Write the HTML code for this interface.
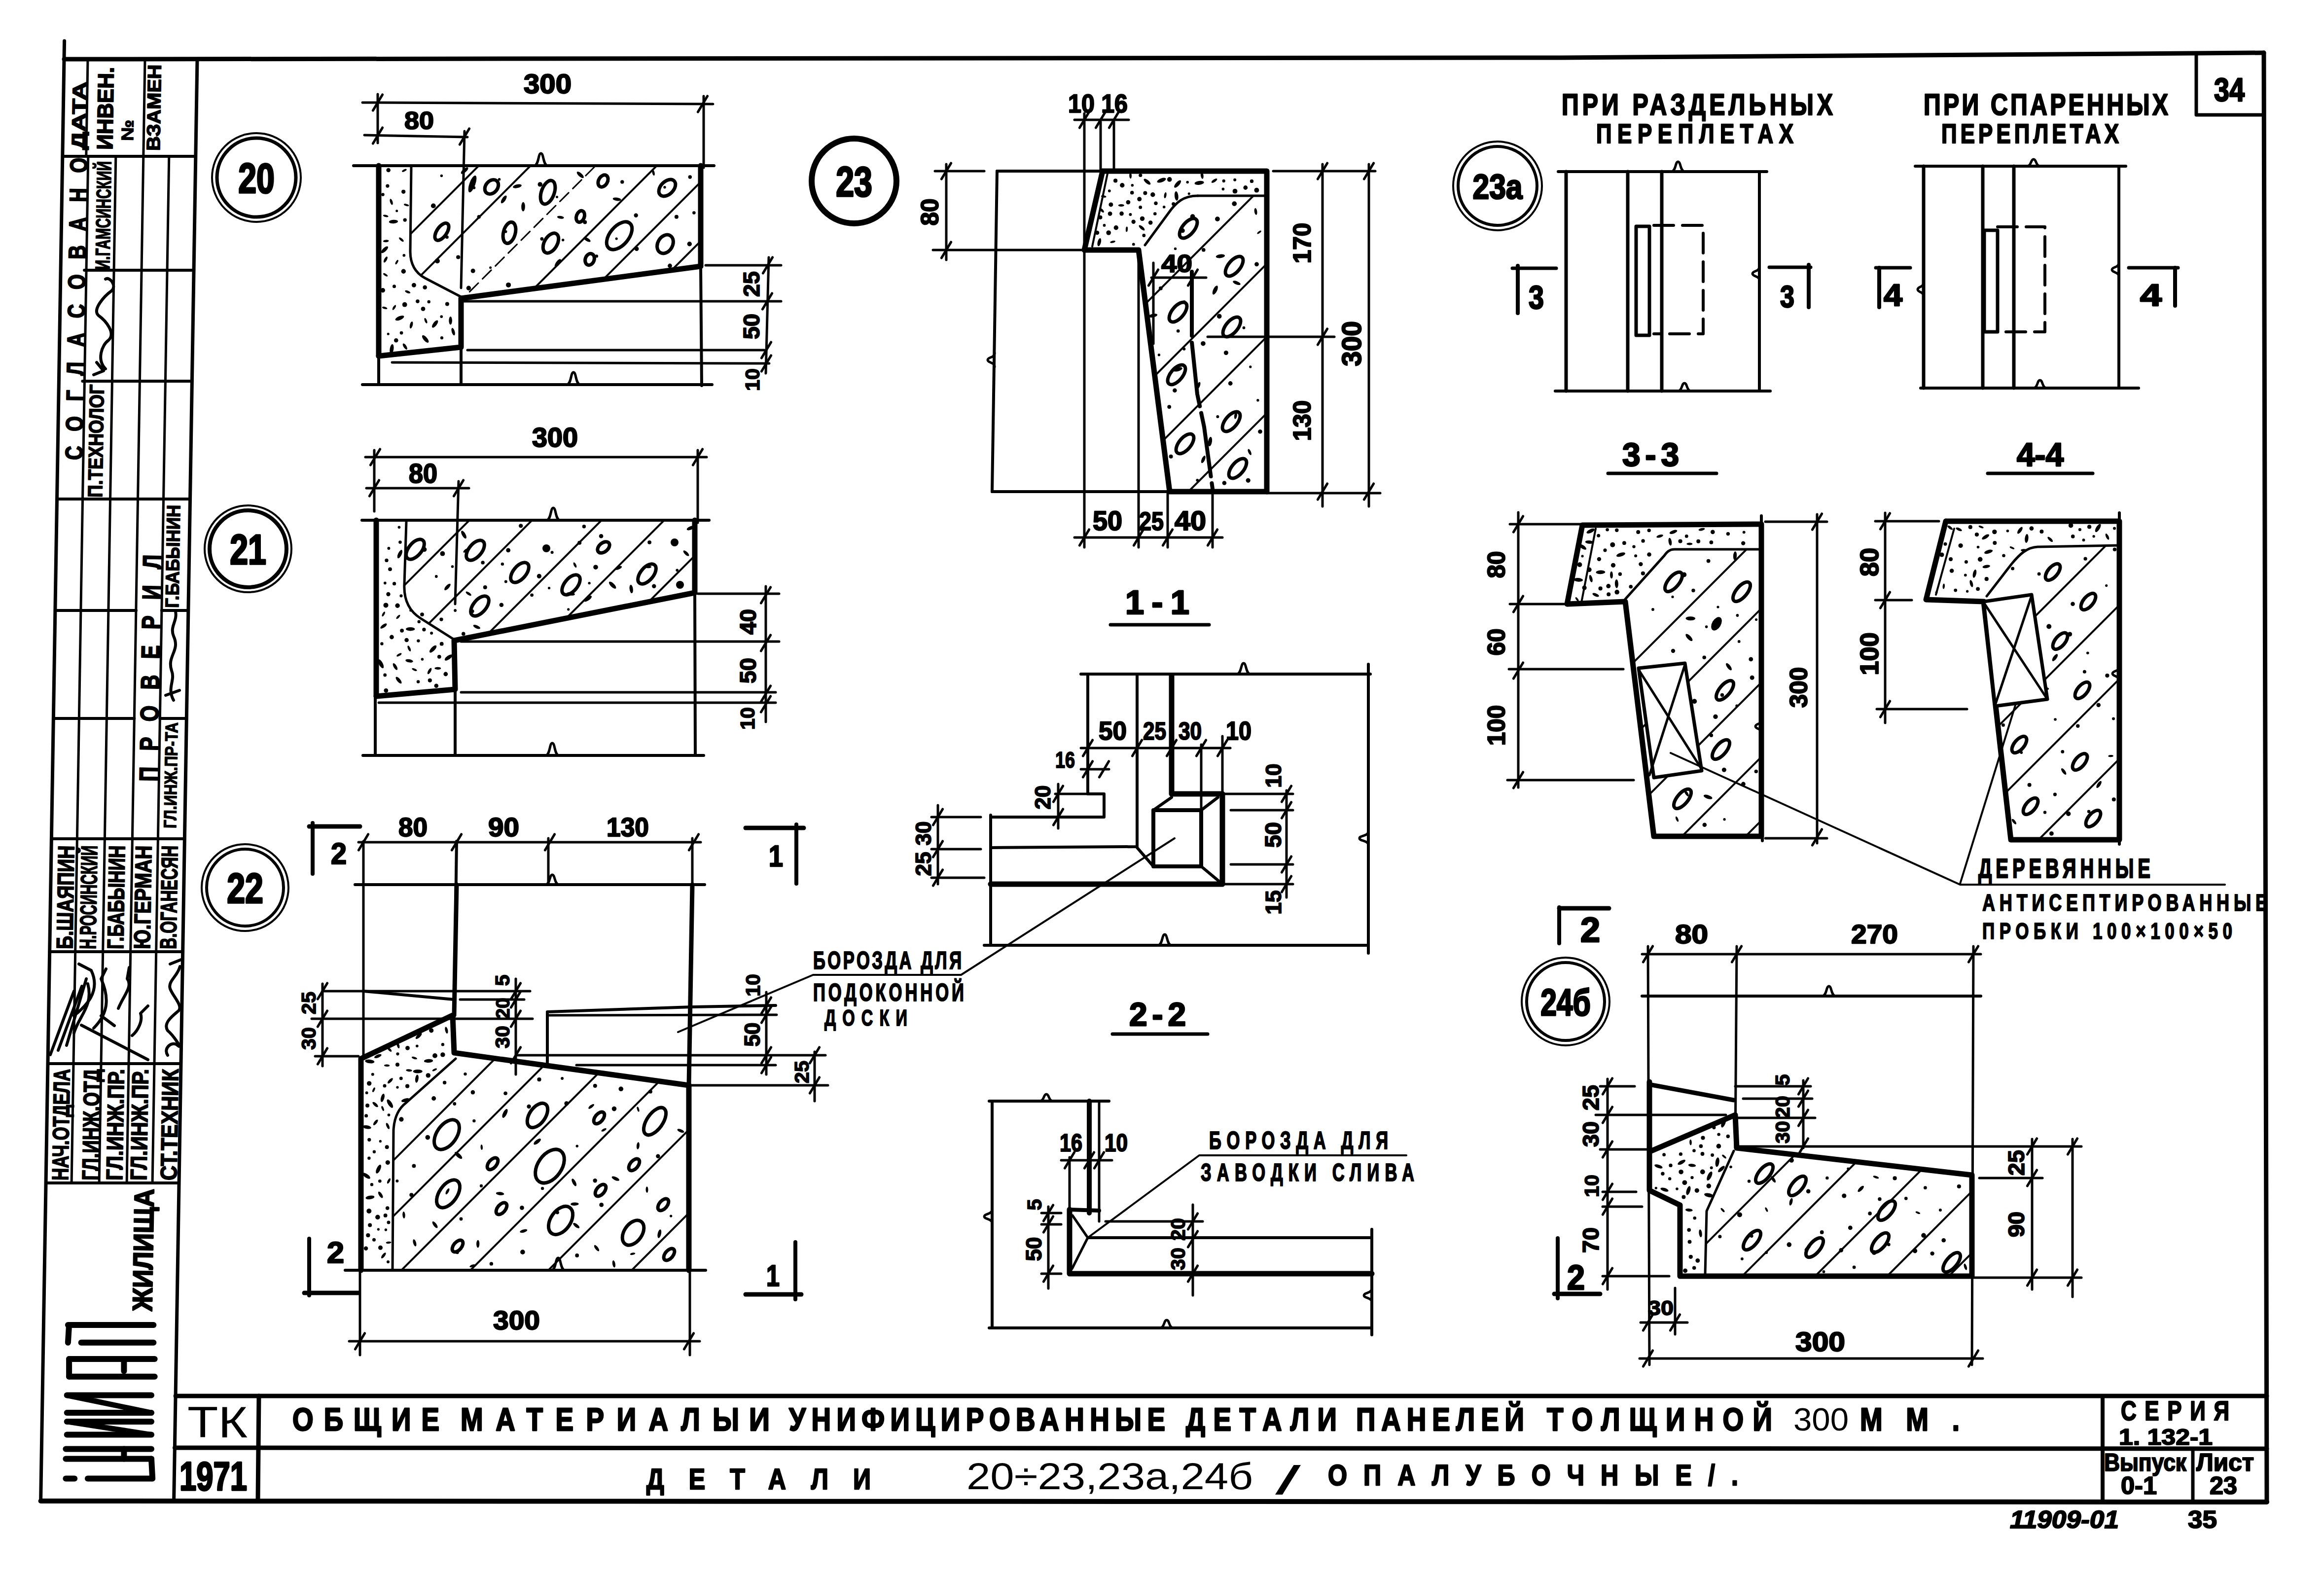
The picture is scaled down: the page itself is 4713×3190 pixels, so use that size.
<!DOCTYPE html>
<html><head><meta charset="utf-8"><style>
html,body{margin:0;padding:0;background:#fff;width:4713px;height:3190px;overflow:hidden}
svg{display:block}
text{fill:#000}
</style></head><body>
<svg width="4713" height="3190" viewBox="0 0 4713 3190">
<defs><clipPath id="c1"><polygon points="834.0,338.0 1421.0,336.0 1421.0,540.0 935.0,605.0 853.0,557.0 832.0,522.0"/></clipPath><clipPath id="c2"><polygon points="834.0,338.0 1421.0,336.0 1421.0,540.0 935.0,605.0 853.0,557.0 832.0,522.0"/></clipPath><clipPath id="c3"><polygon points="824.0,1058.0 1409.0,1055.0 1409.0,1202.0 921.0,1299.0 851.0,1252.0 820.0,1198.0"/></clipPath><clipPath id="c4"><polygon points="924.0,2137.0 1397.0,2201.0 1397.0,2576.0 796.0,2576.0 798.0,2277.0 820.0,2242.0"/></clipPath><clipPath id="c5"><polygon points="2429.0,397.0 2569.0,397.0 2569.0,997.0 2372.0,997.0 2309.0,507.0 2322.0,497.0 2369.0,433.0"/></clipPath><clipPath id="c6"><polygon points="3396.0,1114.0 3572.0,1114.0 3572.0,1696.0 3354.0,1696.0 3296.0,1220.0 3375.0,1127.0"/></clipPath><clipPath id="c7"><polygon points="4132.0,1109.0 4298.0,1106.0 4298.0,1703.0 4078.0,1703.0 4023.0,1220.0 4029.0,1209.0 4080.0,1143.0"/></clipPath><clipPath id="c8"><polygon points="3519.0,2328.0 3999.0,2383.0 3999.0,2588.0 3458.0,2588.0 3461.0,2456.0"/></clipPath></defs>
<g stroke="#000" stroke-linecap="round" stroke-linejoin="round" fill="none">
<polyline points="130.0,120.0 3164.0,117.0 4591.0,107.0" fill="none" stroke-width="9"/>
<line x1="130.6" y1="83.0" x2="82.6" y2="3044.0" stroke-width="7"/>
<line x1="4591.0" y1="107.0" x2="4597.0" y2="3046.0" stroke-width="9"/>
<line x1="82.6" y1="3044.0" x2="4597.0" y2="3046.0" stroke-width="10"/>
<line x1="400.0" y1="120.0" x2="352.6" y2="3044.0" stroke-width="7"/>
<line x1="126.8" y1="317.0" x2="396.8" y2="317.0" stroke-width="6"/>
<line x1="178.0" y1="120.0" x2="174.8" y2="317.0" stroke-width="5"/>
<line x1="294.0" y1="120.0" x2="290.8" y2="317.0" stroke-width="5"/>
<line x1="171.1" y1="548.0" x2="393.1" y2="548.0" stroke-width="6"/>
<line x1="167.4" y1="773.0" x2="389.4" y2="773.0" stroke-width="6"/>
<line x1="115.5" y1="1012.0" x2="385.5" y2="1012.0" stroke-width="6"/>
<line x1="111.9" y1="1238.0" x2="275.9" y2="1238.0" stroke-width="6"/>
<line x1="327.9" y1="1238.0" x2="381.9" y2="1238.0" stroke-width="6"/>
<line x1="108.3" y1="1457.0" x2="272.3" y2="1457.0" stroke-width="6"/>
<line x1="324.3" y1="1457.0" x2="378.3" y2="1457.0" stroke-width="6"/>
<line x1="104.4" y1="1701.0" x2="374.4" y2="1701.0" stroke-width="6"/>
<line x1="100.7" y1="1930.0" x2="370.7" y2="1930.0" stroke-width="6"/>
<line x1="97.0" y1="2157.0" x2="367.0" y2="2157.0" stroke-width="6"/>
<line x1="93.1" y1="2399.0" x2="363.1" y2="2399.0" stroke-width="6"/>
<line x1="178.8" y1="317.0" x2="145.1" y2="2399.0" stroke-width="5"/>
<line x1="234.8" y1="317.0" x2="201.1" y2="2399.0" stroke-width="5"/>
<line x1="290.8" y1="317.0" x2="257.1" y2="2399.0" stroke-width="5"/>
<line x1="342.8" y1="317.0" x2="309.1" y2="2399.0" stroke-width="5"/>
<line x1="356.1" y1="2831.0" x2="4597.0" y2="2831.0" stroke-width="9"/>
<line x1="354.4" y1="2936.0" x2="4597.0" y2="2938.0" stroke-width="9"/>
<line x1="525.0" y1="2831.0" x2="523.0" y2="3044.0" stroke-width="9"/>
<line x1="4264.0" y1="2831.0" x2="4264.0" y2="3046.0" stroke-width="8"/>
<line x1="4447.0" y1="2938.0" x2="4447.0" y2="3046.0" stroke-width="7"/>
<text transform="translate(380.0,2915.0)" text-anchor="start" textLength="122.0" lengthAdjust="spacingAndGlyphs" style="font-size:89.2px;font-weight:normal;font-family:&quot;Liberation Sans&quot;,sans-serif;" stroke="#000" stroke-width="0.0">ТК</text>
<text transform="translate(364.0,3022.0)" text-anchor="start" textLength="137.0" lengthAdjust="spacingAndGlyphs" style="font-size:80.9px;font-weight:bold;font-family:&quot;Liberation Sans&quot;,sans-serif;" stroke="#000" stroke-width="3.5">1971</text>
<text transform="translate(593.0,2901.0) scale(0.85,1)" text-anchor="start" textLength="350.6" lengthAdjust="spacing" style="font-size:64.5px;font-weight:bold;font-family:&quot;Liberation Sans&quot;,sans-serif;" stroke="#000" stroke-width="2.8">ОБЩИЕ</text>
<text transform="translate(934.0,2901.0) scale(0.85,1)" text-anchor="start" textLength="664.7" lengthAdjust="spacing" style="font-size:64.5px;font-weight:bold;font-family:&quot;Liberation Sans&quot;,sans-serif;" stroke="#000" stroke-width="2.8">МАТЕРИАЛЫ</text>
<text transform="translate(1519.0,2901.0)" text-anchor="start" textLength="42.0" lengthAdjust="spacingAndGlyphs" style="font-size:64.5px;font-weight:bold;font-family:&quot;Liberation Sans&quot;,sans-serif;" stroke="#000" stroke-width="2.8">И</text>
<text transform="translate(1600.0,2901.0) scale(0.85,1)" text-anchor="start" textLength="897.6" lengthAdjust="spacing" style="font-size:64.5px;font-weight:bold;font-family:&quot;Liberation Sans&quot;,sans-serif;" stroke="#000" stroke-width="2.8">УНИФИЦИРОВАННЫЕ</text>
<text transform="translate(2405.0,2901.0) scale(0.85,1)" text-anchor="start" textLength="360.0" lengthAdjust="spacing" style="font-size:64.5px;font-weight:bold;font-family:&quot;Liberation Sans&quot;,sans-serif;" stroke="#000" stroke-width="2.8">ДЕТАЛИ</text>
<text transform="translate(2750.0,2901.0) scale(0.85,1)" text-anchor="start" textLength="401.2" lengthAdjust="spacing" style="font-size:64.5px;font-weight:bold;font-family:&quot;Liberation Sans&quot;,sans-serif;" stroke="#000" stroke-width="2.8">ПАНЕЛЕЙ</text>
<text transform="translate(3137.0,2901.0) scale(0.85,1)" text-anchor="start" textLength="537.6" lengthAdjust="spacing" style="font-size:64.5px;font-weight:bold;font-family:&quot;Liberation Sans&quot;,sans-serif;" stroke="#000" stroke-width="2.8">ТОЛЩИНОЙ</text>
<text transform="translate(3637.0,2901.0)" text-anchor="start" textLength="112.0" lengthAdjust="spacingAndGlyphs" style="font-size:64.5px;font-weight:normal;font-family:&quot;Liberation Sans&quot;,sans-serif;" stroke="#000" stroke-width="0.0">300</text>
<text transform="translate(3772.0,2901.0) scale(0.85,1)" text-anchor="start" textLength="237.6" lengthAdjust="spacing" style="font-size:64.5px;font-weight:bold;font-family:&quot;Liberation Sans&quot;,sans-serif;" stroke="#000" stroke-width="2.8">ММ.</text>
<text transform="translate(1311.0,3020.0) scale(0.85,1)" text-anchor="start" textLength="535.3" lengthAdjust="spacing" style="font-size:59.0px;font-weight:bold;font-family:&quot;Liberation Sans&quot;,sans-serif;" stroke="#000" stroke-width="2.6">ДЕТАЛИ</text>
<text transform="translate(1960.0,3020.0)" text-anchor="start" textLength="581.0" lengthAdjust="spacingAndGlyphs" style="font-size:75.4px;font-weight:normal;font-family:&quot;Liberation Sans&quot;,sans-serif;" stroke="#000" stroke-width="0.0">20÷23,23а,24б</text>
<text transform="translate(2586.0,3030.0)" text-anchor="start" textLength="52.0" lengthAdjust="spacingAndGlyphs" style="font-size:82.3px;font-weight:normal;font-family:&quot;Liberation Sans&quot;,sans-serif;" stroke="#000" stroke-width="0.0">/</text>
<text transform="translate(2693.0,3012.0) scale(0.85,1)" text-anchor="start" textLength="978.8" lengthAdjust="spacing" style="font-size:59.0px;font-weight:bold;font-family:&quot;Liberation Sans&quot;,sans-serif;" stroke="#000" stroke-width="2.6">ОПАЛУБОЧНЫЕ/.</text>
<text transform="translate(172.0,304.0) rotate(-89.07)" text-anchor="start" textLength="138.0" lengthAdjust="spacingAndGlyphs" style="font-size:38.4px;font-weight:bold;font-family:&quot;Liberation Sans&quot;,sans-serif;" stroke="#000" stroke-width="1.7">ДАТА</text>
<text transform="translate(228.0,304.0) rotate(-89.07)" text-anchor="start" textLength="168.0" lengthAdjust="spacingAndGlyphs" style="font-size:45.3px;font-weight:bold;font-family:&quot;Liberation Sans&quot;,sans-serif;" stroke="#000" stroke-width="2.0">ИНВЕН.</text>
<text transform="translate(270.0,286.0) rotate(-89.07)" text-anchor="start" textLength="43.0" lengthAdjust="spacingAndGlyphs" style="font-size:34.3px;font-weight:bold;font-family:&quot;Liberation Sans&quot;,sans-serif;" stroke="#000" stroke-width="1.5">№</text>
<text transform="translate(324.0,306.0) rotate(-89.07)" text-anchor="start" textLength="175.0" lengthAdjust="spacingAndGlyphs" style="font-size:38.4px;font-weight:bold;font-family:&quot;Liberation Sans&quot;,sans-serif;" stroke="#000" stroke-width="1.7">ВЗАМЕН</text>
<text transform="translate(167.0,933.0) rotate(-89.07) scale(0.8,1)" text-anchor="start" textLength="766.2" lengthAdjust="spacing" style="font-size:49.4px;font-weight:bold;font-family:&quot;Liberation Sans&quot;,sans-serif;" stroke="#000" stroke-width="2.2">СОГЛАСОВАНО</text>
<text transform="translate(222.0,547.0) rotate(-89.07)" text-anchor="start" textLength="220.0" lengthAdjust="spacingAndGlyphs" style="font-size:41.2px;font-weight:bold;font-family:&quot;Liberation Sans&quot;,sans-serif;" stroke="#000" stroke-width="1.8">И.ГАМСИНСКИЙ</text>
<text transform="translate(207.0,1009.0) rotate(-89.07)" text-anchor="start" textLength="229.0" lengthAdjust="spacingAndGlyphs" style="font-size:41.2px;font-weight:bold;font-family:&quot;Liberation Sans&quot;,sans-serif;" stroke="#000" stroke-width="1.8">П.ТЕХНОЛОГ</text>
<text transform="translate(362.0,1233.0) rotate(-89.07)" text-anchor="start" textLength="209.0" lengthAdjust="spacingAndGlyphs" style="font-size:38.4px;font-weight:bold;font-family:&quot;Liberation Sans&quot;,sans-serif;" stroke="#000" stroke-width="1.7">Г.БАБЫНИН</text>
<text transform="translate(319.0,1585.0) rotate(-89.07) scale(0.8,1)" text-anchor="start" textLength="575.0" lengthAdjust="spacing" style="font-size:52.1px;font-weight:bold;font-family:&quot;Liberation Sans&quot;,sans-serif;" stroke="#000" stroke-width="2.3">ПРОВЕРИЛ</text>
<text transform="translate(357.0,1680.0) rotate(-89.07)" text-anchor="start" textLength="215.0" lengthAdjust="spacingAndGlyphs" style="font-size:35.7px;font-weight:bold;font-family:&quot;Liberation Sans&quot;,sans-serif;" stroke="#000" stroke-width="1.6">ГЛ.ИНЖ.ПР-ТА</text>
<text transform="translate(147.0,1925.0) rotate(-89.07) scale(0.85,1)" text-anchor="start" textLength="247.1" lengthAdjust="spacingAndGlyphs" style="font-size:46.6px;font-weight:bold;font-family:&quot;Liberation Sans&quot;,sans-serif;" stroke="#000" stroke-width="2.0">Б.ШАЯПИН</text>
<text transform="translate(194.0,1925.0) rotate(-89.07) scale(0.85,1)" text-anchor="start" textLength="247.1" lengthAdjust="spacingAndGlyphs" style="font-size:46.6px;font-weight:bold;font-family:&quot;Liberation Sans&quot;,sans-serif;" stroke="#000" stroke-width="2.0">Н.РОСИНСКИЙ</text>
<text transform="translate(250.0,1925.0) rotate(-89.07) scale(0.85,1)" text-anchor="start" textLength="247.1" lengthAdjust="spacingAndGlyphs" style="font-size:46.6px;font-weight:bold;font-family:&quot;Liberation Sans&quot;,sans-serif;" stroke="#000" stroke-width="2.0">Г.БАБЫНИН</text>
<text transform="translate(304.0,1925.0) rotate(-89.07) scale(0.85,1)" text-anchor="start" textLength="247.1" lengthAdjust="spacingAndGlyphs" style="font-size:46.6px;font-weight:bold;font-family:&quot;Liberation Sans&quot;,sans-serif;" stroke="#000" stroke-width="2.0">Ю.ГЕРМАН</text>
<text transform="translate(357.0,1925.0) rotate(-89.07) scale(0.85,1)" text-anchor="start" textLength="247.1" lengthAdjust="spacingAndGlyphs" style="font-size:46.6px;font-weight:bold;font-family:&quot;Liberation Sans&quot;,sans-serif;" stroke="#000" stroke-width="2.0">В.ОГАНЕСЯН</text>
<text transform="translate(138.0,2394.0) rotate(-89.07) scale(0.85,1)" text-anchor="start" textLength="265.9" lengthAdjust="spacingAndGlyphs" style="font-size:46.6px;font-weight:bold;font-family:&quot;Liberation Sans&quot;,sans-serif;" stroke="#000" stroke-width="2.0">НАЧ.ОТДЕЛА</text>
<text transform="translate(199.0,2394.0) rotate(-89.07) scale(0.85,1)" text-anchor="start" textLength="265.9" lengthAdjust="spacingAndGlyphs" style="font-size:46.6px;font-weight:bold;font-family:&quot;Liberation Sans&quot;,sans-serif;" stroke="#000" stroke-width="2.0">ГЛ.ИНЖ.ОТД</text>
<text transform="translate(248.0,2394.0) rotate(-89.07) scale(0.85,1)" text-anchor="start" textLength="265.9" lengthAdjust="spacingAndGlyphs" style="font-size:46.6px;font-weight:bold;font-family:&quot;Liberation Sans&quot;,sans-serif;" stroke="#000" stroke-width="2.0">ГЛ.ИНЖ.ПР.</text>
<text transform="translate(297.0,2394.0) rotate(-89.07) scale(0.85,1)" text-anchor="start" textLength="265.9" lengthAdjust="spacingAndGlyphs" style="font-size:46.6px;font-weight:bold;font-family:&quot;Liberation Sans&quot;,sans-serif;" stroke="#000" stroke-width="2.0">ГЛ.ИНЖ.ПР.</text>
<text transform="translate(358.0,2394.0) rotate(-89.07) scale(0.85,1)" text-anchor="start" textLength="265.9" lengthAdjust="spacingAndGlyphs" style="font-size:46.6px;font-weight:bold;font-family:&quot;Liberation Sans&quot;,sans-serif;" stroke="#000" stroke-width="2.0">СТ.ТЕХНИК</text>
<line x1="137.9" y1="2687.1" x2="311.4" y2="2687.1" stroke-width="12"/>
<line x1="164.6" y1="2722.7" x2="311.4" y2="2722.7" stroke-width="12"/>
<line x1="140.1" y1="2756.1" x2="313.7" y2="2756.1" stroke-width="12"/>
<line x1="140.1" y1="2791.7" x2="313.7" y2="2791.7" stroke-width="12"/>
<line x1="135.7" y1="2829.5" x2="307.0" y2="2829.5" stroke-width="12"/>
<line x1="135.7" y1="2865.1" x2="307.0" y2="2865.1" stroke-width="12"/>
<line x1="135.7" y1="2882.9" x2="307.0" y2="2882.9" stroke-width="12"/>
<line x1="135.7" y1="2909.6" x2="307.0" y2="2909.6" stroke-width="12"/>
<line x1="133.4" y1="2938.5" x2="307.0" y2="2938.5" stroke-width="12"/>
<line x1="133.4" y1="2958.5" x2="307.0" y2="2958.5" stroke-width="12"/>
<line x1="177.9" y1="2998.6" x2="307.0" y2="2998.6" stroke-width="12"/>
<line x1="140.1" y1="2687.1" x2="137.9" y2="2722.7" stroke-width="12"/>
<line x1="140.1" y1="2756.1" x2="140.1" y2="2791.7" stroke-width="12"/>
<line x1="251.4" y1="2756.1" x2="251.4" y2="2780.5" stroke-width="12"/>
<line x1="135.7" y1="2829.5" x2="307.0" y2="2865.1" stroke-width="11"/>
<line x1="135.7" y1="2882.9" x2="307.0" y2="2909.6" stroke-width="11"/>
<line x1="251.4" y1="2938.5" x2="251.4" y2="2958.5" stroke-width="12"/>
<line x1="307.0" y1="2958.5" x2="309.2" y2="2998.6" stroke-width="12"/>
<line x1="133.4" y1="2998.6" x2="151.2" y2="2998.6" stroke-width="12"/>
<text transform="translate(308.0,2659.0) rotate(-89.07)" text-anchor="start" textLength="248.0" lengthAdjust="spacingAndGlyphs" style="font-size:56.2px;font-weight:bold;font-family:&quot;Liberation Sans&quot;,sans-serif;" stroke="#000" stroke-width="2.5">ЖИЛИЩА</text>
<path d="M214,748 C196,730 206,700 220,690 C236,676 214,650 200,640 C186,628 212,600 226,590 C238,580 222,560 214,566 M196,735 L210,752 L190,760" fill="none" stroke-width="6"/>
<path d="M352,1420 C338,1395 356,1380 348,1360 C338,1330 366,1320 352,1290 C344,1270 360,1260 356,1240 M336,1410 L364,1400" fill="none" stroke-width="6"/>
<path d="M102,2139 L150,2010 M118,2130 L166,2000 M135,2120 L175,1985 M150,2095 C160,2060 190,2040 178,1995 M150,2060 C175,2040 205,2010 185,1968 L160,1955 M190,2085 C215,2060 225,2030 205,1985 L215,1965 M165,2079 L300,2149 M205,2060 L232,2080 M240,2045 C250,2020 270,2000 258,1985 L262,1962 M268,2100 C280,2090 290,2070 285,2055 L300,2040" fill="none" stroke-width="6"/>
<path d="M340,2140 C330,2125 350,2110 360,2120 C372,2130 352,2100 340,2090 C330,2075 350,2060 362,2050 C372,2040 350,2020 345,2005 C340,1990 360,1980 365,1960 M345,1955 L370,1945" fill="none" stroke-width="6"/>
<circle cx="520" cy="360" r="90" stroke-width="4"/>
<circle cx="520" cy="360" r="80" stroke-width="7"/>
<text transform="translate(520.0,391.0) scale(0.78,1)" text-anchor="middle" style="font-size:85.0px;font-weight:bold;font-family:&quot;Liberation Sans&quot;,sans-serif;" stroke="#000" stroke-width="3.7">20</text>
<circle cx="896.0" cy="685.2" r="3.1" fill="#000" stroke="none"/>
<ellipse cx="919.1" cy="672.6" rx="7.9" ry="3.1" transform="rotate(74 919.1 672.6)" fill="#000" stroke="none"/>
<ellipse cx="821.3" cy="702.7" rx="7.2" ry="2.9" transform="rotate(57 821.3 702.7)" fill="#000" stroke="none"/>
<circle cx="839.4" cy="578.3" r="4.5" fill="#000" stroke="none"/>
<ellipse cx="781.6" cy="557.3" rx="5.2" ry="2.1" transform="rotate(34 781.6 557.3)" fill="#000" stroke="none"/>
<circle cx="787.7" cy="345.0" r="4.3" fill="#000" stroke="none"/>
<circle cx="804.7" cy="427.7" r="2.5" fill="#000" stroke="none"/>
<circle cx="818.2" cy="388.8" r="4.1" fill="#000" stroke="none"/>
<circle cx="787.2" cy="677.3" r="2.5" fill="#000" stroke="none"/>
<circle cx="820.7" cy="617.7" r="4.9" fill="#000" stroke="none"/>
<ellipse cx="780.2" cy="624.4" rx="5.5" ry="2.2" transform="rotate(15 780.2 624.4)" fill="#000" stroke="none"/>
<ellipse cx="804.7" cy="531.6" rx="5.1" ry="2.0" transform="rotate(120 804.7 531.6)" fill="#000" stroke="none"/>
<ellipse cx="813.9" cy="485.8" rx="6.1" ry="2.4" transform="rotate(41 813.9 485.8)" fill="#000" stroke="none"/>
<circle cx="818.3" cy="550.2" r="4.7" fill="#000" stroke="none"/>
<circle cx="799.5" cy="580.8" r="3.5" fill="#000" stroke="none"/>
<circle cx="814.1" cy="675.1" r="3.4" fill="#000" stroke="none"/>
<ellipse cx="834.1" cy="659.1" rx="7.3" ry="2.9" transform="rotate(104 834.1 659.1)" fill="#000" stroke="none"/>
<circle cx="803.3" cy="690.3" r="4.3" fill="#000" stroke="none"/>
<ellipse cx="797.9" cy="449.5" rx="9.2" ry="3.7" transform="rotate(177 797.9 449.5)" fill="#000" stroke="none"/>
<circle cx="776.3" cy="588.8" r="4.7" fill="#000" stroke="none"/>
<ellipse cx="810.5" cy="645.1" rx="9.6" ry="3.9" transform="rotate(157 810.5 645.1)" fill="#000" stroke="none"/>
<ellipse cx="824.2" cy="415.7" rx="5.3" ry="2.1" transform="rotate(16 824.2 415.7)" fill="#000" stroke="none"/>
<circle cx="869.7" cy="612.0" r="3.2" fill="#000" stroke="none"/>
<ellipse cx="781.9" cy="526.4" rx="6.8" ry="2.7" transform="rotate(119 781.9 526.4)" fill="#000" stroke="none"/>
<circle cx="861.7" cy="582.7" r="4.3" fill="#000" stroke="none"/>
<circle cx="858.0" cy="626.4" r="4.4" fill="#000" stroke="none"/>
<circle cx="819.3" cy="517.8" r="2.9" fill="#000" stroke="none"/>
<ellipse cx="862.7" cy="687.4" rx="9.4" ry="3.8" transform="rotate(49 862.7 687.4)" fill="#000" stroke="none"/>
<ellipse cx="782.2" cy="437.9" rx="5.5" ry="2.2" transform="rotate(14 782.2 437.9)" fill="#000" stroke="none"/>
<circle cx="846.9" cy="611.1" r="3.8" fill="#000" stroke="none"/>
<ellipse cx="793.6" cy="409.3" rx="6.4" ry="2.6" transform="rotate(72 793.6 409.3)" fill="#000" stroke="none"/>
<ellipse cx="863.5" cy="650.3" rx="5.8" ry="2.3" transform="rotate(68 863.5 650.3)" fill="#000" stroke="none"/>
<ellipse cx="882.2" cy="657.0" rx="9.1" ry="3.7" transform="rotate(127 882.2 657.0)" fill="#000" stroke="none"/>
<ellipse cx="794.4" cy="707.8" rx="9.8" ry="3.9" transform="rotate(99 794.4 707.8)" fill="#000" stroke="none"/>
<ellipse cx="779.9" cy="506.4" rx="9.2" ry="3.7" transform="rotate(136 779.9 506.4)" fill="#000" stroke="none"/>
<ellipse cx="826.8" cy="591.9" rx="5.9" ry="2.4" transform="rotate(22 826.8 591.9)" fill="#000" stroke="none"/>
<circle cx="895.3" cy="642.1" r="2.9" fill="#000" stroke="none"/>
<circle cx="821.2" cy="446.1" r="3.7" fill="#000" stroke="none"/>
<ellipse cx="819.9" cy="345.7" rx="5.2" ry="2.1" transform="rotate(153 819.9 345.7)" fill="#000" stroke="none"/>
<circle cx="906.9" cy="616.4" r="4.0" fill="#000" stroke="none"/>
<circle cx="785.9" cy="377.1" r="3.6" fill="#000" stroke="none"/>
<ellipse cx="782.7" cy="488.8" rx="5.9" ry="2.4" transform="rotate(175 782.7 488.8)" fill="#000" stroke="none"/>
<circle cx="776.4" cy="394.6" r="3.3" fill="#000" stroke="none"/>
<ellipse cx="799.4" cy="623.6" rx="5.8" ry="2.3" transform="rotate(123 799.4 623.6)" fill="#000" stroke="none"/>
<ellipse cx="913.6" cy="650.3" rx="8.2" ry="3.3" transform="rotate(90 913.6 650.3)" fill="#000" stroke="none"/>
<circle cx="929.2" cy="521.5" r="4.1" fill="#000" stroke="none"/>
<circle cx="959.2" cy="549.2" r="4.5" fill="#000" stroke="none"/>
<circle cx="1129.5" cy="399.5" r="2.5" fill="#000" stroke="none"/>
<ellipse cx="1176.8" cy="354.6" rx="9.0" ry="3.6" transform="rotate(42 1176.8 354.6)" fill="#000" stroke="none"/>
<circle cx="1025.7" cy="469.8" r="2.8" fill="#000" stroke="none"/>
<ellipse cx="1049.0" cy="377.6" rx="9.1" ry="3.6" transform="rotate(167 1049.0 377.6)" fill="#000" stroke="none"/>
<circle cx="1098.9" cy="484.5" r="3.4" fill="#000" stroke="none"/>
<ellipse cx="942.1" cy="346.0" rx="9.3" ry="3.7" transform="rotate(140 942.1 346.0)" fill="#000" stroke="none"/>
<circle cx="1358.5" cy="539.0" r="4.4" fill="#000" stroke="none"/>
<circle cx="1261.8" cy="368.9" r="3.7" fill="#000" stroke="none"/>
<circle cx="950.4" cy="584.3" r="4.7" fill="#000" stroke="none"/>
<circle cx="886.9" cy="529.2" r="5.0" fill="#000" stroke="none"/>
<ellipse cx="1190.6" cy="485.7" rx="8.1" ry="3.2" transform="rotate(31 1190.6 485.7)" fill="#000" stroke="none"/>
<circle cx="1012.6" cy="363.8" r="2.7" fill="#000" stroke="none"/>
<circle cx="1289.7" cy="436.8" r="4.2" fill="#000" stroke="none"/>
<circle cx="1398.3" cy="494.8" r="4.7" fill="#000" stroke="none"/>
<circle cx="1348.0" cy="379.7" r="2.7" fill="#000" stroke="none"/>
<ellipse cx="1325.0" cy="350.0" rx="6.3" ry="2.5" transform="rotate(76 1325.0 350.0)" fill="#000" stroke="none"/>
<circle cx="1031.1" cy="577.9" r="5.0" fill="#000" stroke="none"/>
<circle cx="1186.2" cy="450.6" r="4.0" fill="#000" stroke="none"/>
<circle cx="994.6" cy="542.7" r="2.5" fill="#000" stroke="none"/>
<circle cx="1333.6" cy="493.2" r="3.1" fill="#000" stroke="none"/>
<circle cx="1095.2" cy="373.9" r="4.7" fill="#000" stroke="none"/>
<circle cx="906.5" cy="480.9" r="3.3" fill="#000" stroke="none"/>
<circle cx="961.3" cy="380.7" r="3.0" fill="#000" stroke="none"/>
<circle cx="1250.2" cy="484.0" r="2.6" fill="#000" stroke="none"/>
<ellipse cx="1251.1" cy="404.0" rx="8.5" ry="3.4" transform="rotate(8 1251.1 404.0)" fill="#000" stroke="none"/>
<ellipse cx="1061.0" cy="419.2" rx="9.5" ry="3.8" transform="rotate(91 1061.0 419.2)" fill="#000" stroke="none"/>
<ellipse cx="1131.3" cy="533.6" rx="9.8" ry="3.9" transform="rotate(126 1131.3 533.6)" fill="#000" stroke="none"/>
<circle cx="1141.7" cy="486.8" r="2.7" fill="#000" stroke="none"/>
<circle cx="1407.4" cy="431.6" r="3.3" fill="#000" stroke="none"/>
<circle cx="895.4" cy="356.5" r="2.7" fill="#000" stroke="none"/>
<ellipse cx="1136.8" cy="440.7" rx="7.0" ry="2.8" transform="rotate(9 1136.8 440.7)" fill="#000" stroke="none"/>
<circle cx="971.3" cy="439.7" r="3.7" fill="#000" stroke="none"/>
<circle cx="1399.3" cy="359.0" r="3.7" fill="#000" stroke="none"/>
<circle cx="1291.1" cy="504.6" r="4.4" fill="#000" stroke="none"/>
<circle cx="1371.9" cy="439.8" r="4.0" fill="#000" stroke="none"/>
<circle cx="878.8" cy="417.4" r="4.9" fill="#000" stroke="none"/>
<circle cx="1209.9" cy="519.4" r="3.2" fill="#000" stroke="none"/>
<ellipse cx="1021.7" cy="404.4" rx="9.2" ry="3.7" transform="rotate(123 1021.7 404.4)" fill="#000" stroke="none"/>
<g clip-path="url(#c1)">
<line x1="782.0" y1="525.0" x2="1471.0" y2="-164.0" stroke-width="4"/>
<line x1="782.0" y1="630.0" x2="1471.0" y2="-59.0" stroke-width="4"/>
<line x1="782.0" y1="886.0" x2="1471.0" y2="197.0" stroke-width="4"/>
<line x1="782.0" y1="1008.0" x2="1471.0" y2="319.0" stroke-width="4"/>
<line x1="782.0" y1="1128.0" x2="1471.0" y2="439.0" stroke-width="4"/>
</g>
<g clip-path="url(#c2)"><line x1="900" y1="644" x2="1300" y2="244" stroke-width="3" stroke-dasharray="25,12"/></g>
<ellipse cx="958" cy="373" rx="6" ry="18" transform="rotate(20 958 373)" fill="#000" stroke="none"/>
<ellipse cx="997.0" cy="379.0" rx="12.0" ry="16.0" transform="rotate(40 997.0 379.0)" stroke-width="7"/>
<ellipse cx="1111.0" cy="390.0" rx="13.0" ry="25.0" transform="rotate(20 1111.0 390.0)" stroke-width="7"/>
<ellipse cx="1223.0" cy="367.0" rx="9.0" ry="13.0" transform="rotate(30 1223.0 367.0)" stroke-width="7"/>
<ellipse cx="1353.0" cy="381.0" rx="13.0" ry="20.0" transform="rotate(45 1353.0 381.0)" stroke-width="7"/>
<ellipse cx="896.0" cy="470.0" rx="10.0" ry="20.0" transform="rotate(35 896.0 470.0)" stroke-width="7"/>
<ellipse cx="1033.0" cy="472.0" rx="12.0" ry="22.0" transform="rotate(15 1033.0 472.0)" stroke-width="7"/>
<ellipse cx="1117.0" cy="493.0" rx="13.0" ry="22.0" transform="rotate(30 1117.0 493.0)" stroke-width="7"/>
<ellipse cx="1177.0" cy="439.0" rx="8.0" ry="12.0" transform="rotate(20 1177.0 439.0)" stroke-width="7"/>
<ellipse cx="1256.0" cy="478.0" rx="19.0" ry="33.0" transform="rotate(40 1256.0 478.0)" stroke-width="7"/>
<ellipse cx="1349.0" cy="495.0" rx="15.0" ry="20.0" transform="rotate(30 1349.0 495.0)" stroke-width="7"/>
<ellipse cx="1196.0" cy="526.0" rx="9.0" ry="12.0" transform="rotate(20 1196.0 526.0)" stroke-width="7"/>
<polyline points="768.0,336.0 768.0,722.0" fill="none" stroke-width="11"/>
<polyline points="1421.0,336.0 1421.0,540.0 935.0,605.0 935.0,704.0 768.0,722.0" fill="none" stroke-width="11"/>
<path d="M834,338 L832,510 Q832,548 862,564 L935,602" fill="none" stroke-width="5"/>
<line x1="717.0" y1="336.0" x2="1448.0" y2="336.0" stroke-width="6"/>
<path d="M1083,336 C1093,336 1091,311 1097,311 C1103,311 1101,336 1111,336" fill="none" stroke-width="5"/>
<line x1="735.0" y1="780.0" x2="1444.0" y2="780.0" stroke-width="6"/>
<path d="M1149,780 C1159,780 1157,755 1163,755 C1169,755 1167,780 1177,780" fill="none" stroke-width="5"/>
<line x1="768.0" y1="722.0" x2="768.0" y2="780.0" stroke-width="6"/>
<line x1="935.0" y1="704.0" x2="935.0" y2="780.0" stroke-width="6"/>
<line x1="1421.0" y1="540.0" x2="1423.0" y2="782.0" stroke-width="6"/>
<line x1="795.0" y1="735.0" x2="1560.0" y2="737.0" stroke-width="5"/>
<line x1="948.0" y1="710.0" x2="1550.0" y2="710.0" stroke-width="5"/>
<line x1="935.0" y1="611.0" x2="1584.0" y2="611.0" stroke-width="5"/>
<line x1="1431.0" y1="538.0" x2="1584.0" y2="538.0" stroke-width="5"/>
<line x1="735.0" y1="208.0" x2="1446.0" y2="211.0" stroke-width="5"/>
<line x1="756.4" y1="224.0" x2="775.6" y2="192.0" stroke-width="5"/>
<line x1="1415.4" y1="227.0" x2="1434.6" y2="195.0" stroke-width="5"/>
<line x1="739.0" y1="274.0" x2="948.0" y2="278.0" stroke-width="5"/>
<line x1="756.4" y1="291.0" x2="775.6" y2="259.0" stroke-width="5"/>
<line x1="932.4" y1="293.0" x2="951.6" y2="261.0" stroke-width="5"/>
<line x1="766.0" y1="191.0" x2="766.0" y2="290.0" stroke-width="5"/>
<line x1="942.0" y1="266.0" x2="935.0" y2="584.0" stroke-width="5"/>
<line x1="1427.0" y1="195.0" x2="1427.0" y2="340.0" stroke-width="5"/>
<text transform="translate(1062.0,189.0)" text-anchor="start" textLength="97.0" lengthAdjust="spacingAndGlyphs" style="font-size:54.9px;font-weight:bold;font-family:&quot;Liberation Sans&quot;,sans-serif;" stroke="#000" stroke-width="2.4">300</text>
<text transform="translate(820.0,262.0)" text-anchor="start" textLength="60.0" lengthAdjust="spacingAndGlyphs" style="font-size:49.4px;font-weight:bold;font-family:&quot;Liberation Sans&quot;,sans-serif;" stroke="#000" stroke-width="2.2">80</text>
<line x1="1559.0" y1="522.0" x2="1553.0" y2="757.0" stroke-width="5"/>
<line x1="1547.4" y1="554.0" x2="1566.6" y2="522.0" stroke-width="5"/>
<line x1="1546.4" y1="627.0" x2="1565.6" y2="595.0" stroke-width="5"/>
<line x1="1544.4" y1="726.0" x2="1563.6" y2="694.0" stroke-width="5"/>
<line x1="1544.4" y1="753.0" x2="1563.6" y2="721.0" stroke-width="5"/>
<text transform="translate(1540.0,576.0) rotate(-90)" text-anchor="middle" style="font-size:46.6px;font-weight:bold;font-family:&quot;Liberation Sans&quot;,sans-serif;" stroke="#000" stroke-width="2.0">25</text>
<text transform="translate(1540.0,662.0) rotate(-90)" text-anchor="middle" style="font-size:46.6px;font-weight:bold;font-family:&quot;Liberation Sans&quot;,sans-serif;" stroke="#000" stroke-width="2.0">50</text>
<text transform="translate(1540.0,770.0) rotate(-90)" text-anchor="middle" style="font-size:41.2px;font-weight:bold;font-family:&quot;Liberation Sans&quot;,sans-serif;" stroke="#000" stroke-width="1.8">10</text>
<circle cx="503" cy="1113" r="88" stroke-width="4"/>
<circle cx="503" cy="1113" r="78" stroke-width="8"/>
<text transform="translate(503.0,1144.0) scale(0.78,1)" text-anchor="middle" style="font-size:85.0px;font-weight:bold;font-family:&quot;Liberation Sans&quot;,sans-serif;" stroke="#000" stroke-width="3.7">21</text>
<circle cx="824.6" cy="1298.0" r="4.3" fill="#000" stroke="none"/>
<circle cx="809.4" cy="1069.3" r="2.8" fill="#000" stroke="none"/>
<ellipse cx="840.5" cy="1357.9" rx="5.6" ry="2.2" transform="rotate(23 840.5 1357.9)" fill="#000" stroke="none"/>
<ellipse cx="887.8" cy="1355.3" rx="6.5" ry="2.6" transform="rotate(1 887.8 1355.3)" fill="#000" stroke="none"/>
<circle cx="890.8" cy="1331.8" r="3.9" fill="#000" stroke="none"/>
<circle cx="895.7" cy="1305.7" r="3.9" fill="#000" stroke="none"/>
<ellipse cx="777.9" cy="1269.6" rx="7.8" ry="3.1" transform="rotate(144 777.9 1269.6)" fill="#000" stroke="none"/>
<circle cx="859.9" cy="1276.7" r="3.7" fill="#000" stroke="none"/>
<ellipse cx="809.4" cy="1327.9" rx="5.8" ry="2.3" transform="rotate(149 809.4 1327.9)" fill="#000" stroke="none"/>
<circle cx="788.4" cy="1111.9" r="3.0" fill="#000" stroke="none"/>
<ellipse cx="832.2" cy="1275.7" rx="9.2" ry="3.7" transform="rotate(0 832.2 1275.7)" fill="#000" stroke="none"/>
<ellipse cx="878.1" cy="1316.1" rx="9.6" ry="3.9" transform="rotate(134 878.1 1316.1)" fill="#000" stroke="none"/>
<circle cx="856.4" cy="1337.0" r="2.8" fill="#000" stroke="none"/>
<circle cx="782.8" cy="1400.4" r="4.4" fill="#000" stroke="none"/>
<circle cx="794.4" cy="1292.0" r="4.4" fill="#000" stroke="none"/>
<circle cx="871.8" cy="1379.8" r="4.1" fill="#000" stroke="none"/>
<circle cx="780.8" cy="1182.4" r="2.8" fill="#000" stroke="none"/>
<circle cx="813.5" cy="1208.3" r="3.1" fill="#000" stroke="none"/>
<circle cx="787.5" cy="1205.0" r="4.2" fill="#000" stroke="none"/>
<circle cx="848.1" cy="1382.5" r="3.3" fill="#000" stroke="none"/>
<circle cx="784.0" cy="1136.4" r="3.7" fill="#000" stroke="none"/>
<ellipse cx="777.7" cy="1245.3" rx="5.5" ry="2.2" transform="rotate(119 777.7 1245.3)" fill="#000" stroke="none"/>
<ellipse cx="829.8" cy="1315.2" rx="6.3" ry="2.5" transform="rotate(66 829.8 1315.2)" fill="#000" stroke="none"/>
<circle cx="832.7" cy="1238.1" r="2.5" fill="#000" stroke="none"/>
<circle cx="815.1" cy="1278.8" r="3.9" fill="#000" stroke="none"/>
<ellipse cx="808.5" cy="1379.4" rx="8.5" ry="3.4" transform="rotate(50 808.5 1379.4)" fill="#000" stroke="none"/>
<ellipse cx="830.0" cy="1340.2" rx="7.9" ry="3.2" transform="rotate(10 830.0 1340.2)" fill="#000" stroke="none"/>
<circle cx="848.4" cy="1299.6" r="3.2" fill="#000" stroke="none"/>
<circle cx="875.1" cy="1284.0" r="3.0" fill="#000" stroke="none"/>
<circle cx="774.4" cy="1305.5" r="3.2" fill="#000" stroke="none"/>
<ellipse cx="807.5" cy="1251.0" rx="5.4" ry="2.2" transform="rotate(133 807.5 1251.0)" fill="#000" stroke="none"/>
<circle cx="811.5" cy="1099.6" r="3.3" fill="#000" stroke="none"/>
<circle cx="884.8" cy="1390.7" r="4.3" fill="#000" stroke="none"/>
<ellipse cx="909.7" cy="1333.4" rx="9.4" ry="3.8" transform="rotate(145 909.7 1333.4)" fill="#000" stroke="none"/>
<circle cx="903.8" cy="1367.0" r="4.4" fill="#000" stroke="none"/>
<ellipse cx="871.1" cy="1360.9" rx="7.0" ry="2.8" transform="rotate(120 871.1 1360.9)" fill="#000" stroke="none"/>
<ellipse cx="772.4" cy="1346.3" rx="9.9" ry="4.0" transform="rotate(62 772.4 1346.3)" fill="#000" stroke="none"/>
<circle cx="799.6" cy="1183.7" r="3.6" fill="#000" stroke="none"/>
<ellipse cx="801.4" cy="1351.9" rx="7.7" ry="3.1" transform="rotate(59 801.4 1351.9)" fill="#000" stroke="none"/>
<circle cx="806.1" cy="1228.2" r="4.7" fill="#000" stroke="none"/>
<circle cx="849.7" cy="1260.7" r="3.2" fill="#000" stroke="none"/>
<circle cx="791.0" cy="1154.3" r="3.9" fill="#000" stroke="none"/>
<circle cx="780.7" cy="1368.9" r="3.4" fill="#000" stroke="none"/>
<ellipse cx="810.9" cy="1123.7" rx="9.3" ry="3.7" transform="rotate(115 810.9 1123.7)" fill="#000" stroke="none"/>
<circle cx="782.5" cy="1227.4" r="5.0" fill="#000" stroke="none"/>
<circle cx="1152.7" cy="1235.8" r="2.6" fill="#000" stroke="none"/>
<ellipse cx="1192.3" cy="1214.1" rx="9.2" ry="3.7" transform="rotate(144 1192.3 1214.1)" fill="#000" stroke="none"/>
<circle cx="1219.1" cy="1087.2" r="4.3" fill="#000" stroke="none"/>
<circle cx="1366.9" cy="1098.5" r="2.9" fill="#000" stroke="none"/>
<ellipse cx="1242.2" cy="1186.7" rx="9.5" ry="3.8" transform="rotate(44 1242.2 1186.7)" fill="#000" stroke="none"/>
<circle cx="1195.1" cy="1182.6" r="2.7" fill="#000" stroke="none"/>
<ellipse cx="945.8" cy="1116.0" rx="7.4" ry="2.9" transform="rotate(147 945.8 1116.0)" fill="#000" stroke="none"/>
<circle cx="1119.6" cy="1120.2" r="3.0" fill="#000" stroke="none"/>
<ellipse cx="1391.5" cy="1122.0" rx="7.7" ry="3.1" transform="rotate(44 1391.5 1122.0)" fill="#000" stroke="none"/>
<circle cx="979.1" cy="1140.9" r="3.7" fill="#000" stroke="none"/>
<circle cx="860.6" cy="1114.3" r="4.8" fill="#000" stroke="none"/>
<circle cx="1025.8" cy="1179.6" r="3.0" fill="#000" stroke="none"/>
<ellipse cx="1254.2" cy="1151.8" rx="7.4" ry="3.0" transform="rotate(157 1254.2 1151.8)" fill="#000" stroke="none"/>
<circle cx="1317.1" cy="1099.8" r="3.9" fill="#000" stroke="none"/>
<circle cx="1018.8" cy="1143.9" r="3.2" fill="#000" stroke="none"/>
<circle cx="1208.0" cy="1150.2" r="4.8" fill="#000" stroke="none"/>
<circle cx="884.8" cy="1169.0" r="2.9" fill="#000" stroke="none"/>
<circle cx="1175.2" cy="1100.8" r="4.0" fill="#000" stroke="none"/>
<ellipse cx="1166.0" cy="1145.8" rx="5.9" ry="2.4" transform="rotate(64 1166.0 1145.8)" fill="#000" stroke="none"/>
<ellipse cx="1315.6" cy="1150.1" rx="5.5" ry="2.2" transform="rotate(175 1315.6 1150.1)" fill="#000" stroke="none"/>
<ellipse cx="1400.8" cy="1070.7" rx="8.7" ry="3.5" transform="rotate(157 1400.8 1070.7)" fill="#000" stroke="none"/>
<circle cx="1093.4" cy="1168.4" r="4.6" fill="#000" stroke="none"/>
<circle cx="1184.4" cy="1067.7" r="3.7" fill="#000" stroke="none"/>
<circle cx="1056.2" cy="1066.4" r="4.2" fill="#000" stroke="none"/>
<circle cx="1113.6" cy="1192.6" r="2.6" fill="#000" stroke="none"/>
<circle cx="939.8" cy="1285.4" r="3.8" fill="#000" stroke="none"/>
<circle cx="856.0" cy="1246.1" r="3.9" fill="#000" stroke="none"/>
<circle cx="1030.7" cy="1115.9" r="4.4" fill="#000" stroke="none"/>
<circle cx="1058.7" cy="1174.8" r="2.5" fill="#000" stroke="none"/>
<circle cx="1016.9" cy="1226.8" r="4.3" fill="#000" stroke="none"/>
<ellipse cx="950.2" cy="1203.9" rx="6.6" ry="2.6" transform="rotate(34 950.2 1203.9)" fill="#000" stroke="none"/>
<circle cx="1078.6" cy="1206.8" r="3.4" fill="#000" stroke="none"/>
<circle cx="895.0" cy="1256.1" r="3.7" fill="#000" stroke="none"/>
<circle cx="917.5" cy="1149.0" r="2.8" fill="#000" stroke="none"/>
<ellipse cx="966.8" cy="1271.3" rx="7.7" ry="3.1" transform="rotate(24 966.8 1271.3)" fill="#000" stroke="none"/>
<circle cx="923.1" cy="1238.0" r="2.9" fill="#000" stroke="none"/>
<ellipse cx="1280.2" cy="1194.5" rx="8.7" ry="3.5" transform="rotate(82 1280.2 1194.5)" fill="#000" stroke="none"/>
<circle cx="958.0" cy="1239.6" r="3.6" fill="#000" stroke="none"/>
<ellipse cx="1157.5" cy="1204.3" rx="8.5" ry="3.4" transform="rotate(7 1157.5 1204.3)" fill="#000" stroke="none"/>
<ellipse cx="940.5" cy="1084.2" rx="8.9" ry="3.6" transform="rotate(60 940.5 1084.2)" fill="#000" stroke="none"/>
<circle cx="1326.3" cy="1188.8" r="4.2" fill="#000" stroke="none"/>
<ellipse cx="907.4" cy="1190.4" rx="8.6" ry="3.4" transform="rotate(133 907.4 1190.4)" fill="#000" stroke="none"/>
<circle cx="983.8" cy="1191.0" r="4.0" fill="#000" stroke="none"/>
<circle cx="1373.2" cy="1156.4" r="2.8" fill="#000" stroke="none"/>
<circle cx="897.4" cy="1122.7" r="4.9" fill="#000" stroke="none"/>
<g clip-path="url(#c3)">
<line x1="770.0" y1="1237.0" x2="1459.0" y2="548.0" stroke-width="4"/>
<line x1="770.0" y1="1364.0" x2="1459.0" y2="675.0" stroke-width="4"/>
<line x1="770.0" y1="1505.0" x2="1459.0" y2="816.0" stroke-width="4"/>
<line x1="770.0" y1="1632.0" x2="1459.0" y2="943.0" stroke-width="4"/>
<line x1="770.0" y1="1766.0" x2="1459.0" y2="1077.0" stroke-width="4"/>
</g>
<ellipse cx="842.0" cy="1114.0" rx="13.0" ry="24.0" transform="rotate(40 842.0 1114.0)" stroke-width="7"/>
<ellipse cx="964.0" cy="1116.0" rx="13.0" ry="24.0" transform="rotate(40 964.0 1116.0)" stroke-width="7"/>
<ellipse cx="1054.0" cy="1161.0" rx="13.0" ry="24.0" transform="rotate(40 1054.0 1161.0)" stroke-width="7"/>
<ellipse cx="1158.0" cy="1186.0" rx="13.0" ry="24.0" transform="rotate(40 1158.0 1186.0)" stroke-width="7"/>
<ellipse cx="1312.0" cy="1164.0" rx="13.0" ry="24.0" transform="rotate(40 1312.0 1164.0)" stroke-width="7"/>
<ellipse cx="973.0" cy="1229.0" rx="13.0" ry="24.0" transform="rotate(40 973.0 1229.0)" stroke-width="7"/>
<ellipse cx="1224.0" cy="1110.0" rx="9.0" ry="14.0" transform="rotate(50 1224.0 1110.0)" stroke-width="7"/>
<circle cx="1108" cy="1112" r="8" fill="#000" stroke="none"/>
<circle cx="1368" cy="1100" r="8" fill="#000" stroke="none"/>
<circle cx="1379" cy="1186" r="8" fill="#000" stroke="none"/>
<polyline points="763.0,1055.0 763.0,1412.0" fill="none" stroke-width="11"/>
<polyline points="1409.0,1055.0 1409.0,1202.0 921.0,1299.0 923.0,1398.0 763.0,1412.0" fill="none" stroke-width="11"/>
<path d="M824,1058 L820,1185 Q818,1232 853,1254 L921,1297" fill="none" stroke-width="5"/>
<line x1="734.0" y1="1055.0" x2="1438.0" y2="1055.0" stroke-width="6"/>
<path d="M1108,1055 C1118,1055 1116,1030 1122,1030 C1128,1030 1126,1055 1136,1055" fill="none" stroke-width="5"/>
<line x1="736.0" y1="1532.0" x2="1427.0" y2="1532.0" stroke-width="6"/>
<path d="M1106,1532 C1116,1532 1114,1507 1120,1507 C1126,1507 1124,1532 1134,1532" fill="none" stroke-width="5"/>
<line x1="761.0" y1="1412.0" x2="761.0" y2="1532.0" stroke-width="6"/>
<line x1="923.0" y1="1398.0" x2="923.0" y2="1532.0" stroke-width="6"/>
<line x1="1409.0" y1="1202.0" x2="1410.0" y2="1532.0" stroke-width="6"/>
<line x1="935.0" y1="1301.0" x2="1580.0" y2="1301.0" stroke-width="5"/>
<line x1="935.0" y1="1404.0" x2="1573.0" y2="1404.0" stroke-width="5"/>
<line x1="768.0" y1="1425.0" x2="1573.0" y2="1425.0" stroke-width="5"/>
<line x1="1415.0" y1="1204.0" x2="1580.0" y2="1204.0" stroke-width="5"/>
<line x1="741.0" y1="927.0" x2="1433.0" y2="927.0" stroke-width="5"/>
<line x1="751.4" y1="943.0" x2="770.6" y2="911.0" stroke-width="5"/>
<line x1="1405.4" y1="943.0" x2="1424.6" y2="911.0" stroke-width="5"/>
<line x1="743.0" y1="990.0" x2="951.0" y2="990.0" stroke-width="5"/>
<line x1="749.4" y1="1006.0" x2="768.6" y2="974.0" stroke-width="5"/>
<line x1="920.4" y1="1006.0" x2="939.6" y2="974.0" stroke-width="5"/>
<line x1="759.0" y1="913.0" x2="759.0" y2="1037.0" stroke-width="5"/>
<line x1="930.0" y1="976.0" x2="923.0" y2="1225.0" stroke-width="5"/>
<line x1="1415.0" y1="913.0" x2="1415.0" y2="1060.0" stroke-width="5"/>
<text transform="translate(1079.0,906.0)" text-anchor="start" textLength="93.0" lengthAdjust="spacingAndGlyphs" style="font-size:54.9px;font-weight:bold;font-family:&quot;Liberation Sans&quot;,sans-serif;" stroke="#000" stroke-width="2.4">300</text>
<text transform="translate(829.0,979.0)" text-anchor="start" textLength="58.0" lengthAdjust="spacingAndGlyphs" style="font-size:54.9px;font-weight:bold;font-family:&quot;Liberation Sans&quot;,sans-serif;" stroke="#000" stroke-width="2.4">80</text>
<line x1="1553.0" y1="1189.0" x2="1553.0" y2="1464.0" stroke-width="5"/>
<line x1="1543.4" y1="1223.0" x2="1562.6" y2="1191.0" stroke-width="5"/>
<line x1="1543.4" y1="1320.0" x2="1562.6" y2="1288.0" stroke-width="5"/>
<line x1="1543.4" y1="1423.0" x2="1562.6" y2="1391.0" stroke-width="5"/>
<line x1="1543.4" y1="1444.0" x2="1562.6" y2="1412.0" stroke-width="5"/>
<text transform="translate(1533.0,1261.0) rotate(-90)" text-anchor="middle" style="font-size:46.6px;font-weight:bold;font-family:&quot;Liberation Sans&quot;,sans-serif;" stroke="#000" stroke-width="2.0">40</text>
<text transform="translate(1533.0,1360.0) rotate(-90)" text-anchor="middle" style="font-size:46.6px;font-weight:bold;font-family:&quot;Liberation Sans&quot;,sans-serif;" stroke="#000" stroke-width="2.0">50</text>
<text transform="translate(1530.0,1457.0) rotate(-90)" text-anchor="middle" style="font-size:41.2px;font-weight:bold;font-family:&quot;Liberation Sans&quot;,sans-serif;" stroke="#000" stroke-width="1.8">10</text>
<circle cx="497" cy="1800" r="88" stroke-width="4"/>
<circle cx="497" cy="1800" r="78" stroke-width="6"/>
<text transform="translate(497.0,1831.0) scale(0.78,1)" text-anchor="middle" style="font-size:85.0px;font-weight:bold;font-family:&quot;Liberation Sans&quot;,sans-serif;" stroke="#000" stroke-width="3.7">22</text>
<circle cx="780.0" cy="2201.9" r="3.5" fill="#000" stroke="none"/>
<circle cx="868.3" cy="2180.9" r="4.7" fill="#000" stroke="none"/>
<circle cx="806.0" cy="2159.0" r="4.0" fill="#000" stroke="none"/>
<ellipse cx="771.7" cy="2423.0" rx="7.6" ry="3.1" transform="rotate(57 771.7 2423.0)" fill="#000" stroke="none"/>
<circle cx="748.3" cy="2456.0" r="5.0" fill="#000" stroke="none"/>
<ellipse cx="775.9" cy="2226.4" rx="8.7" ry="3.5" transform="rotate(105 775.9 2226.4)" fill="#000" stroke="none"/>
<circle cx="826.1" cy="2202.7" r="4.1" fill="#000" stroke="none"/>
<circle cx="784.7" cy="2326.2" r="4.0" fill="#000" stroke="none"/>
<ellipse cx="744.2" cy="2285.8" rx="8.7" ry="3.5" transform="rotate(10 744.2 2285.8)" fill="#000" stroke="none"/>
<ellipse cx="847.2" cy="2172.7" rx="9.6" ry="3.8" transform="rotate(0 847.2 2172.7)" fill="#000" stroke="none"/>
<ellipse cx="790.8" cy="2238.1" rx="9.9" ry="4.0" transform="rotate(57 790.8 2238.1)" fill="#000" stroke="none"/>
<ellipse cx="742.8" cy="2384.4" rx="9.5" ry="3.8" transform="rotate(34 742.8 2384.4)" fill="#000" stroke="none"/>
<circle cx="785.7" cy="2450.1" r="3.8" fill="#000" stroke="none"/>
<ellipse cx="829.5" cy="2170.7" rx="6.2" ry="2.5" transform="rotate(5 829.5 2170.7)" fill="#000" stroke="none"/>
<circle cx="742.1" cy="2531.8" r="4.2" fill="#000" stroke="none"/>
<ellipse cx="786.4" cy="2283.5" rx="6.8" ry="2.7" transform="rotate(66 786.4 2283.5)" fill="#000" stroke="none"/>
<circle cx="754.0" cy="2402.3" r="3.2" fill="#000" stroke="none"/>
<circle cx="758.9" cy="2335.8" r="3.2" fill="#000" stroke="none"/>
<circle cx="748.4" cy="2348.8" r="3.2" fill="#000" stroke="none"/>
<circle cx="748.8" cy="2311.3" r="3.6" fill="#000" stroke="none"/>
<ellipse cx="777.8" cy="2546.1" rx="7.1" ry="2.8" transform="rotate(127 777.8 2546.1)" fill="#000" stroke="none"/>
<circle cx="813.3" cy="2186.9" r="3.4" fill="#000" stroke="none"/>
<circle cx="874.7" cy="2089.8" r="4.6" fill="#000" stroke="none"/>
<ellipse cx="749.8" cy="2152.5" rx="9.6" ry="3.8" transform="rotate(6 749.8 2152.5)" fill="#000" stroke="none"/>
<ellipse cx="788.5" cy="2394.9" rx="6.0" ry="2.4" transform="rotate(119 788.5 2394.9)" fill="#000" stroke="none"/>
<ellipse cx="840.4" cy="2145.6" rx="5.7" ry="2.3" transform="rotate(17 840.4 2145.6)" fill="#000" stroke="none"/>
<circle cx="788.5" cy="2261.1" r="2.9" fill="#000" stroke="none"/>
<circle cx="845.8" cy="2121.3" r="2.8" fill="#000" stroke="none"/>
<circle cx="765.9" cy="2468.4" r="4.8" fill="#000" stroke="none"/>
<ellipse cx="845.4" cy="2187.6" rx="8.3" ry="3.3" transform="rotate(98 845.4 2187.6)" fill="#000" stroke="none"/>
<ellipse cx="784.6" cy="2160.8" rx="5.6" ry="2.3" transform="rotate(1 784.6 2160.8)" fill="#000" stroke="none"/>
<ellipse cx="791.4" cy="2191.8" rx="7.2" ry="2.9" transform="rotate(134 791.4 2191.8)" fill="#000" stroke="none"/>
<circle cx="806.5" cy="2137.3" r="3.1" fill="#000" stroke="none"/>
<circle cx="745.1" cy="2242.0" r="4.0" fill="#000" stroke="none"/>
<circle cx="746.4" cy="2505.2" r="4.1" fill="#000" stroke="none"/>
<ellipse cx="761.1" cy="2240.0" rx="7.2" ry="2.9" transform="rotate(42 761.1 2240.0)" fill="#000" stroke="none"/>
<circle cx="786.3" cy="2357.6" r="4.6" fill="#000" stroke="none"/>
<ellipse cx="767.6" cy="2370.8" rx="9.7" ry="3.9" transform="rotate(115 767.6 2370.8)" fill="#000" stroke="none"/>
<circle cx="806.0" cy="2205.1" r="2.7" fill="#000" stroke="none"/>
<circle cx="750.2" cy="2484.4" r="4.0" fill="#000" stroke="none"/>
<ellipse cx="750.4" cy="2428.4" rx="9.1" ry="3.7" transform="rotate(171 750.4 2428.4)" fill="#000" stroke="none"/>
<ellipse cx="761.7" cy="2276.2" rx="7.0" ry="2.8" transform="rotate(128 761.7 2276.2)" fill="#000" stroke="none"/>
<ellipse cx="905.4" cy="2089.2" rx="7.0" ry="2.8" transform="rotate(77 905.4 2089.2)" fill="#000" stroke="none"/>
<circle cx="882.0" cy="2140.9" r="4.9" fill="#000" stroke="none"/>
<circle cx="787.0" cy="2559.0" r="3.0" fill="#000" stroke="none"/>
<circle cx="771.5" cy="2530.3" r="4.5" fill="#000" stroke="none"/>
<ellipse cx="822.5" cy="2231.1" rx="8.8" ry="3.5" transform="rotate(166 822.5 2231.1)" fill="#000" stroke="none"/>
<circle cx="897.9" cy="2118.3" r="3.2" fill="#000" stroke="none"/>
<circle cx="897.9" cy="2138.9" r="4.7" fill="#000" stroke="none"/>
<ellipse cx="766.3" cy="2141.9" rx="7.8" ry="3.1" transform="rotate(157 766.3 2141.9)" fill="#000" stroke="none"/>
<circle cx="755.8" cy="2178.7" r="3.0" fill="#000" stroke="none"/>
<circle cx="748.7" cy="2197.1" r="4.7" fill="#000" stroke="none"/>
<circle cx="767.3" cy="2493.1" r="2.6" fill="#000" stroke="none"/>
<circle cx="742.7" cy="2262.8" r="3.5" fill="#000" stroke="none"/>
<circle cx="770.3" cy="2395.3" r="3.3" fill="#000" stroke="none"/>
<circle cx="758.5" cy="2514.2" r="3.5" fill="#000" stroke="none"/>
<ellipse cx="788.0" cy="2519.9" rx="5.4" ry="2.2" transform="rotate(175 788.0 2519.9)" fill="#000" stroke="none"/>
<ellipse cx="849.1" cy="2100.8" rx="8.3" ry="3.3" transform="rotate(136 849.1 2100.8)" fill="#000" stroke="none"/>
<circle cx="743.7" cy="2216.2" r="2.9" fill="#000" stroke="none"/>
<ellipse cx="757.9" cy="2210.1" rx="5.1" ry="2.1" transform="rotate(115 757.9 2210.1)" fill="#000" stroke="none"/>
<circle cx="788.0" cy="2478.9" r="3.5" fill="#000" stroke="none"/>
<ellipse cx="869.0" cy="2151.4" rx="9.2" ry="3.7" transform="rotate(177 869.0 2151.4)" fill="#000" stroke="none"/>
<ellipse cx="807.3" cy="2119.8" rx="6.4" ry="2.6" transform="rotate(72 807.3 2119.8)" fill="#000" stroke="none"/>
<ellipse cx="881.3" cy="2169.5" rx="5.1" ry="2.0" transform="rotate(153 881.3 2169.5)" fill="#000" stroke="none"/>
<circle cx="781.6" cy="2464.9" r="3.9" fill="#000" stroke="none"/>
<ellipse cx="776.1" cy="2248.0" rx="5.2" ry="2.1" transform="rotate(68 776.1 2248.0)" fill="#000" stroke="none"/>
<ellipse cx="789.7" cy="2128.2" rx="6.1" ry="2.4" transform="rotate(45 789.7 2128.2)" fill="#000" stroke="none"/>
<circle cx="771.3" cy="2314.4" r="2.6" fill="#000" stroke="none"/>
<circle cx="782.4" cy="2494.0" r="2.7" fill="#000" stroke="none"/>
<circle cx="826.5" cy="2125.3" r="4.4" fill="#000" stroke="none"/>
<circle cx="943.5" cy="2178.1" r="3.2" fill="#000" stroke="none"/>
<circle cx="935.0" cy="2472.0" r="3.4" fill="#000" stroke="none"/>
<ellipse cx="1312.0" cy="2412.6" rx="6.3" ry="2.5" transform="rotate(89 1312.0 2412.6)" fill="#000" stroke="none"/>
<ellipse cx="1283.0" cy="2542.7" rx="5.4" ry="2.2" transform="rotate(168 1283.0 2542.7)" fill="#000" stroke="none"/>
<ellipse cx="1165.4" cy="2441.7" rx="8.3" ry="3.3" transform="rotate(178 1165.4 2441.7)" fill="#000" stroke="none"/>
<ellipse cx="1210.0" cy="2531.2" rx="7.6" ry="3.0" transform="rotate(53 1210.0 2531.2)" fill="#000" stroke="none"/>
<ellipse cx="958.0" cy="2567.0" rx="6.1" ry="2.4" transform="rotate(160 958.0 2567.0)" fill="#000" stroke="none"/>
<circle cx="1025.1" cy="2217.3" r="3.8" fill="#000" stroke="none"/>
<circle cx="1360.7" cy="2466.1" r="2.6" fill="#000" stroke="none"/>
<ellipse cx="907.5" cy="2416.1" rx="6.8" ry="2.7" transform="rotate(118 907.5 2416.1)" fill="#000" stroke="none"/>
<circle cx="1259.3" cy="2208.3" r="4.8" fill="#000" stroke="none"/>
<circle cx="805.4" cy="2395.1" r="3.0" fill="#000" stroke="none"/>
<circle cx="1072.6" cy="2244.0" r="4.2" fill="#000" stroke="none"/>
<circle cx="996.4" cy="2562.9" r="3.7" fill="#000" stroke="none"/>
<circle cx="867.3" cy="2306.6" r="4.8" fill="#000" stroke="none"/>
<circle cx="927.3" cy="2539.9" r="3.4" fill="#000" stroke="none"/>
<ellipse cx="1061.8" cy="2496.4" rx="7.8" ry="3.1" transform="rotate(164 1061.8 2496.4)" fill="#000" stroke="none"/>
<circle cx="1170.3" cy="2324.2" r="2.7" fill="#000" stroke="none"/>
<ellipse cx="1168.7" cy="2485.4" rx="7.9" ry="3.2" transform="rotate(38 1168.7 2485.4)" fill="#000" stroke="none"/>
<ellipse cx="1014.1" cy="2420.6" rx="8.3" ry="3.3" transform="rotate(6 1014.1 2420.6)" fill="#000" stroke="none"/>
<circle cx="1148.9" cy="2237.8" r="4.5" fill="#000" stroke="none"/>
<ellipse cx="1024.0" cy="2258.0" rx="9.8" ry="3.9" transform="rotate(117 1024.0 2258.0)" fill="#000" stroke="none"/>
<circle cx="1058.5" cy="2449.4" r="4.3" fill="#000" stroke="none"/>
<circle cx="834.4" cy="2423.3" r="4.1" fill="#000" stroke="none"/>
<circle cx="1245.5" cy="2248.6" r="4.8" fill="#000" stroke="none"/>
<circle cx="976.0" cy="2404.9" r="3.1" fill="#000" stroke="none"/>
<circle cx="1219.7" cy="2443.4" r="4.4" fill="#000" stroke="none"/>
<ellipse cx="976.8" cy="2326.6" rx="5.5" ry="2.2" transform="rotate(86 976.8 2326.6)" fill="#000" stroke="none"/>
<circle cx="921.8" cy="2238.5" r="3.4" fill="#000" stroke="none"/>
<ellipse cx="1380.5" cy="2293.3" rx="7.5" ry="3.0" transform="rotate(22 1380.5 2293.3)" fill="#000" stroke="none"/>
<ellipse cx="1294.0" cy="2249.5" rx="5.2" ry="2.1" transform="rotate(73 1294.0 2249.5)" fill="#000" stroke="none"/>
<ellipse cx="1293.9" cy="2323.5" rx="7.3" ry="2.9" transform="rotate(96 1293.9 2323.5)" fill="#000" stroke="none"/>
<ellipse cx="1337.3" cy="2502.0" rx="8.9" ry="3.5" transform="rotate(103 1337.3 2502.0)" fill="#000" stroke="none"/>
<ellipse cx="969.2" cy="2522.6" rx="7.8" ry="3.1" transform="rotate(91 969.2 2522.6)" fill="#000" stroke="none"/>
<ellipse cx="1199.1" cy="2243.8" rx="7.1" ry="2.8" transform="rotate(143 1199.1 2243.8)" fill="#000" stroke="none"/>
<circle cx="961.4" cy="2273.1" r="3.2" fill="#000" stroke="none"/>
<ellipse cx="1248.3" cy="2390.2" rx="8.4" ry="3.3" transform="rotate(25 1248.3 2390.2)" fill="#000" stroke="none"/>
<circle cx="958.9" cy="2215.1" r="4.3" fill="#000" stroke="none"/>
<circle cx="1059.9" cy="2539.1" r="4.8" fill="#000" stroke="none"/>
<ellipse cx="840.9" cy="2520.4" rx="7.5" ry="3.0" transform="rotate(74 840.9 2520.4)" fill="#000" stroke="none"/>
<circle cx="1170.2" cy="2546.0" r="3.9" fill="#000" stroke="none"/>
<ellipse cx="882.1" cy="2483.8" rx="8.1" ry="3.2" transform="rotate(53 882.1 2483.8)" fill="#000" stroke="none"/>
<ellipse cx="819.0" cy="2464.0" rx="6.9" ry="2.7" transform="rotate(86 819.0 2464.0)" fill="#000" stroke="none"/>
<ellipse cx="929.7" cy="2343.1" rx="9.7" ry="3.9" transform="rotate(42 929.7 2343.1)" fill="#000" stroke="none"/>
<circle cx="1093.5" cy="2189.2" r="4.1" fill="#000" stroke="none"/>
<ellipse cx="1164.2" cy="2397.9" rx="8.4" ry="3.4" transform="rotate(62 1164.2 2397.9)" fill="#000" stroke="none"/>
<circle cx="839.4" cy="2364.4" r="3.9" fill="#000" stroke="none"/>
<ellipse cx="1224.6" cy="2291.4" rx="5.8" ry="2.3" transform="rotate(152 1224.6 2291.4)" fill="#000" stroke="none"/>
<circle cx="1130.3" cy="2458.8" r="3.6" fill="#000" stroke="none"/>
<ellipse cx="1089.6" cy="2315.2" rx="8.9" ry="3.6" transform="rotate(142 1089.6 2315.2)" fill="#000" stroke="none"/>
<circle cx="1319.0" cy="2213.7" r="3.9" fill="#000" stroke="none"/>
<circle cx="1100.1" cy="2410.1" r="3.2" fill="#000" stroke="none"/>
<circle cx="1334.4" cy="2344.7" r="4.2" fill="#000" stroke="none"/>
<circle cx="813.9" cy="2270.0" r="4.7" fill="#000" stroke="none"/>
<circle cx="1140.1" cy="2187.0" r="2.9" fill="#000" stroke="none"/>
<circle cx="901.6" cy="2195.5" r="3.7" fill="#000" stroke="none"/>
<circle cx="879.7" cy="2227.6" r="4.5" fill="#000" stroke="none"/>
<circle cx="1206.8" cy="2202.1" r="4.0" fill="#000" stroke="none"/>
<ellipse cx="1244.9" cy="2563.2" rx="7.3" ry="2.9" transform="rotate(80 1244.9 2563.2)" fill="#000" stroke="none"/>
<circle cx="1206.7" cy="2394.3" r="4.2" fill="#000" stroke="none"/>
<g clip-path="url(#c4)">
<line x1="746.0" y1="2405.0" x2="1447.0" y2="1704.0" stroke-width="4"/>
<line x1="746.0" y1="2518.0" x2="1447.0" y2="1817.0" stroke-width="4"/>
<line x1="746.0" y1="2644.0" x2="1447.0" y2="1943.0" stroke-width="4"/>
<line x1="746.0" y1="2784.0" x2="1447.0" y2="2083.0" stroke-width="4"/>
<line x1="746.0" y1="2942.0" x2="1447.0" y2="2241.0" stroke-width="4"/>
<line x1="746.0" y1="3111.0" x2="1447.0" y2="2410.0" stroke-width="4"/>
</g>
<ellipse cx="906.0" cy="2301.0" rx="20.0" ry="34.0" transform="rotate(35 906.0 2301.0)" stroke-width="7"/>
<ellipse cx="1090.0" cy="2262.0" rx="16.0" ry="28.0" transform="rotate(35 1090.0 2262.0)" stroke-width="7"/>
<ellipse cx="1115.0" cy="2365.0" rx="24.0" ry="38.0" transform="rotate(35 1115.0 2365.0)" stroke-width="7"/>
<ellipse cx="1328.0" cy="2274.0" rx="16.0" ry="32.0" transform="rotate(35 1328.0 2274.0)" stroke-width="7"/>
<ellipse cx="909.0" cy="2421.0" rx="18.0" ry="32.0" transform="rotate(35 909.0 2421.0)" stroke-width="7"/>
<ellipse cx="1137.0" cy="2475.0" rx="20.0" ry="32.0" transform="rotate(35 1137.0 2475.0)" stroke-width="7"/>
<ellipse cx="1284.0" cy="2500.0" rx="18.0" ry="28.0" transform="rotate(35 1284.0 2500.0)" stroke-width="7"/>
<ellipse cx="1017.0" cy="2451.0" rx="8.0" ry="14.0" transform="rotate(40 1017.0 2451.0)" stroke-width="7"/>
<ellipse cx="1218.0" cy="2414.0" rx="8.0" ry="14.0" transform="rotate(40 1218.0 2414.0)" stroke-width="7"/>
<ellipse cx="999.0" cy="2360.0" rx="8.0" ry="14.0" transform="rotate(40 999.0 2360.0)" stroke-width="7"/>
<ellipse cx="1215.0" cy="2267.0" rx="8.0" ry="14.0" transform="rotate(40 1215.0 2267.0)" stroke-width="7"/>
<ellipse cx="1286.0" cy="2362.0" rx="8.0" ry="14.0" transform="rotate(40 1286.0 2362.0)" stroke-width="7"/>
<ellipse cx="1345.0" cy="2443.0" rx="8.0" ry="14.0" transform="rotate(40 1345.0 2443.0)" stroke-width="7"/>
<ellipse cx="928.0" cy="2527.0" rx="8.0" ry="14.0" transform="rotate(40 928.0 2527.0)" stroke-width="7"/>
<ellipse cx="1357.0" cy="2544.0" rx="8.0" ry="14.0" transform="rotate(40 1357.0 2544.0)" stroke-width="7"/>
<polyline points="732.0,2576.0 732.0,2147.0 918.0,2059.0 921.0,2135.0 1397.0,2201.0 1397.0,2576.0" fill="none" stroke-width="11"/>
<path d="M796,2576 L798,2292 Q800,2254 824,2236 L924,2147" fill="none" stroke-width="5"/>
<line x1="700.0" y1="2576.0" x2="1431.0" y2="2576.0" stroke-width="6"/>
<path d="M1118,2576 C1128,2576 1126,2551 1132,2551 C1138,2551 1136,2576 1146,2576" fill="none" stroke-width="5"/>
<line x1="737.0" y1="1706.0" x2="737.0" y2="2147.0" stroke-width="5"/>
<line x1="926.0" y1="1706.0" x2="921.0" y2="2059.0" stroke-width="6"/>
<polyline points="926.0,1794.0 921.0,2059.0" fill="none" stroke-width="9"/>
<line x1="1112.0" y1="1700.0" x2="1112.0" y2="1790.0" stroke-width="5"/>
<line x1="1404.0" y1="1700.0" x2="1404.0" y2="1794.0" stroke-width="5"/>
<line x1="1404.0" y1="1794.0" x2="1397.0" y2="2201.0" stroke-width="9"/>
<line x1="720.0" y1="1794.0" x2="1429.0" y2="1794.0" stroke-width="6"/>
<path d="M1106,1794 C1116,1794 1114,1774 1120,1774 C1126,1774 1124,1794 1134,1794" fill="none" stroke-width="5"/>
<line x1="727.0" y1="1708.0" x2="1421.0" y2="1708.0" stroke-width="5"/>
<line x1="727.4" y1="1724.0" x2="746.6" y2="1692.0" stroke-width="5"/>
<line x1="916.4" y1="1724.0" x2="935.6" y2="1692.0" stroke-width="5"/>
<line x1="1105.4" y1="1724.0" x2="1124.6" y2="1692.0" stroke-width="5"/>
<line x1="1397.4" y1="1724.0" x2="1416.6" y2="1692.0" stroke-width="5"/>
<text transform="translate(808.0,1696.0)" text-anchor="start" textLength="59.0" lengthAdjust="spacingAndGlyphs" style="font-size:53.5px;font-weight:bold;font-family:&quot;Liberation Sans&quot;,sans-serif;" stroke="#000" stroke-width="2.3">80</text>
<text transform="translate(990.0,1696.0)" text-anchor="start" textLength="63.0" lengthAdjust="spacingAndGlyphs" style="font-size:53.5px;font-weight:bold;font-family:&quot;Liberation Sans&quot;,sans-serif;" stroke="#000" stroke-width="2.3">90</text>
<text transform="translate(1230.0,1696.0)" text-anchor="start" textLength="86.0" lengthAdjust="spacingAndGlyphs" style="font-size:53.5px;font-weight:bold;font-family:&quot;Liberation Sans&quot;,sans-serif;" stroke="#000" stroke-width="2.3">130</text>
<line x1="634.0" y1="1669.0" x2="634.0" y2="1772.0" stroke-width="8"/>
<line x1="627.0" y1="1676.0" x2="730.0" y2="1676.0" stroke-width="9"/>
<text transform="translate(671.0,1752.0)" text-anchor="start" textLength="32.0" lengthAdjust="spacingAndGlyphs" style="font-size:60.4px;font-weight:bold;font-family:&quot;Liberation Sans&quot;,sans-serif;" stroke="#000" stroke-width="2.6">2</text>
<line x1="1615.0" y1="1672.0" x2="1615.0" y2="1792.0" stroke-width="8"/>
<line x1="1512.0" y1="1679.0" x2="1630.0" y2="1679.0" stroke-width="9"/>
<text transform="translate(1559.0,1757.0)" text-anchor="start" textLength="29.0" lengthAdjust="spacingAndGlyphs" style="font-size:60.4px;font-weight:bold;font-family:&quot;Liberation Sans&quot;,sans-serif;" stroke="#000" stroke-width="2.6">1</text>
<line x1="627.0" y1="2512.0" x2="627.0" y2="2627.0" stroke-width="8"/>
<line x1="617.0" y1="2622.0" x2="727.0" y2="2622.0" stroke-width="9"/>
<text transform="translate(663.0,2561.0)" text-anchor="start" textLength="35.0" lengthAdjust="spacingAndGlyphs" style="font-size:60.4px;font-weight:bold;font-family:&quot;Liberation Sans&quot;,sans-serif;" stroke="#000" stroke-width="2.6">2</text>
<line x1="1613.0" y1="2519.0" x2="1613.0" y2="2635.0" stroke-width="8"/>
<line x1="1512.0" y1="2625.0" x2="1625.0" y2="2625.0" stroke-width="9"/>
<text transform="translate(1554.0,2608.0)" text-anchor="start" textLength="27.0" lengthAdjust="spacingAndGlyphs" style="font-size:60.4px;font-weight:bold;font-family:&quot;Liberation Sans&quot;,sans-serif;" stroke="#000" stroke-width="2.6">1</text>
<line x1="737.0" y1="2010.0" x2="921.0" y2="2027.0" stroke-width="6"/>
<line x1="654.0" y1="2010.0" x2="1075.0" y2="2010.0" stroke-width="5"/>
<line x1="933.0" y1="2027.0" x2="1063.0" y2="2027.0" stroke-width="5"/>
<line x1="632.0" y1="2066.0" x2="1080.0" y2="2066.0" stroke-width="5"/>
<line x1="639.0" y1="2142.0" x2="727.0" y2="2142.0" stroke-width="5"/>
<line x1="654.0" y1="1995.0" x2="654.0" y2="2162.0" stroke-width="5"/>
<line x1="644.4" y1="2026.0" x2="663.6" y2="1994.0" stroke-width="5"/>
<line x1="644.4" y1="2082.0" x2="663.6" y2="2050.0" stroke-width="5"/>
<line x1="644.4" y1="2158.0" x2="663.6" y2="2126.0" stroke-width="5"/>
<text transform="translate(640.0,2034.0) rotate(-90)" text-anchor="middle" style="font-size:41.2px;font-weight:bold;font-family:&quot;Liberation Sans&quot;,sans-serif;" stroke="#000" stroke-width="1.8">25</text>
<text transform="translate(640.0,2106.0) rotate(-90)" text-anchor="middle" style="font-size:41.2px;font-weight:bold;font-family:&quot;Liberation Sans&quot;,sans-serif;" stroke="#000" stroke-width="1.8">30</text>
<line x1="1046.0" y1="1985.0" x2="1046.0" y2="2179.0" stroke-width="5"/>
<line x1="1036.4" y1="2026.0" x2="1055.6" y2="1994.0" stroke-width="5"/>
<line x1="1036.4" y1="2043.0" x2="1055.6" y2="2011.0" stroke-width="5"/>
<line x1="1036.4" y1="2082.0" x2="1055.6" y2="2050.0" stroke-width="5"/>
<line x1="1036.4" y1="2156.0" x2="1055.6" y2="2124.0" stroke-width="5"/>
<text transform="translate(1033.0,1988.0) rotate(-90)" text-anchor="middle" style="font-size:41.2px;font-weight:bold;font-family:&quot;Liberation Sans&quot;,sans-serif;" stroke="#000" stroke-width="1.8">5</text>
<text transform="translate(1033.0,2045.0) rotate(-90)" text-anchor="middle" style="font-size:38.4px;font-weight:bold;font-family:&quot;Liberation Sans&quot;,sans-serif;" stroke="#000" stroke-width="1.7">20</text>
<text transform="translate(1033.0,2103.0) rotate(-90)" text-anchor="middle" style="font-size:41.2px;font-weight:bold;font-family:&quot;Liberation Sans&quot;,sans-serif;" stroke="#000" stroke-width="1.8">30</text>
<polyline points="1110.0,2157.0 1110.0,2052.0 1404.0,2042.0 1573.0,2039.0" fill="none" stroke-width="6"/>
<line x1="1113.0" y1="2059.0" x2="1575.0" y2="2058.0" stroke-width="5"/>
<line x1="1048.0" y1="2140.0" x2="1674.0" y2="2140.0" stroke-width="5"/>
<line x1="1169.0" y1="2160.0" x2="1573.0" y2="2160.0" stroke-width="5"/>
<line x1="1399.0" y1="2201.0" x2="1679.0" y2="2201.0" stroke-width="5"/>
<line x1="1554.0" y1="2012.0" x2="1554.0" y2="2179.0" stroke-width="5"/>
<line x1="1544.4" y1="2055.0" x2="1563.6" y2="2023.0" stroke-width="5"/>
<line x1="1544.4" y1="2074.0" x2="1563.6" y2="2042.0" stroke-width="5"/>
<line x1="1544.4" y1="2156.0" x2="1563.6" y2="2124.0" stroke-width="5"/>
<line x1="1544.4" y1="2176.0" x2="1563.6" y2="2144.0" stroke-width="5"/>
<text transform="translate(1541.0,1998.0) rotate(-90)" text-anchor="middle" style="font-size:41.2px;font-weight:bold;font-family:&quot;Liberation Sans&quot;,sans-serif;" stroke="#000" stroke-width="1.8">10</text>
<text transform="translate(1541.0,2098.0) rotate(-90)" text-anchor="middle" style="font-size:43.9px;font-weight:bold;font-family:&quot;Liberation Sans&quot;,sans-serif;" stroke="#000" stroke-width="1.9">50</text>
<line x1="1652.0" y1="2133.0" x2="1652.0" y2="2233.0" stroke-width="5"/>
<line x1="1642.4" y1="2156.0" x2="1661.6" y2="2124.0" stroke-width="5"/>
<line x1="1642.4" y1="2217.0" x2="1661.6" y2="2185.0" stroke-width="5"/>
<text transform="translate(1640.0,2174.0) rotate(-90)" text-anchor="middle" style="font-size:41.2px;font-weight:bold;font-family:&quot;Liberation Sans&quot;,sans-serif;" stroke="#000" stroke-width="1.8">25</text>
<line x1="730.0" y1="2576.0" x2="730.0" y2="2748.0" stroke-width="5"/>
<line x1="1399.0" y1="2576.0" x2="1399.0" y2="2748.0" stroke-width="5"/>
<line x1="708.0" y1="2720.0" x2="1419.0" y2="2720.0" stroke-width="5"/>
<line x1="720.4" y1="2736.0" x2="739.6" y2="2704.0" stroke-width="5"/>
<line x1="1387.4" y1="2736.0" x2="1406.6" y2="2704.0" stroke-width="5"/>
<text transform="translate(1000.0,2696.0)" text-anchor="start" textLength="95.0" lengthAdjust="spacingAndGlyphs" style="font-size:53.5px;font-weight:bold;font-family:&quot;Liberation Sans&quot;,sans-serif;" stroke="#000" stroke-width="2.3">300</text>
<circle cx="1732" cy="367" r="86" stroke-width="12"/>
<text transform="translate(1732.0,398.0) scale(0.78,1)" text-anchor="middle" style="font-size:85.0px;font-weight:bold;font-family:&quot;Liberation Sans&quot;,sans-serif;" stroke="#000" stroke-width="3.7">23</text>
<circle cx="2538.5" cy="367.4" r="3.7" fill="#000" stroke="none"/>
<circle cx="2411.3" cy="392.8" r="2.6" fill="#000" stroke="none"/>
<ellipse cx="2315.5" cy="462.0" rx="7.5" ry="3.0" transform="rotate(41 2315.5 462.0)" fill="#000" stroke="none"/>
<circle cx="2252.9" cy="414.9" r="4.5" fill="#000" stroke="none"/>
<circle cx="2504.2" cy="364.7" r="3.0" fill="#000" stroke="none"/>
<ellipse cx="2256.6" cy="490.4" rx="5.5" ry="2.2" transform="rotate(166 2256.6 490.4)" fill="#000" stroke="none"/>
<ellipse cx="2385.8" cy="397.5" rx="9.5" ry="3.8" transform="rotate(84 2385.8 397.5)" fill="#000" stroke="none"/>
<circle cx="2296.3" cy="375.7" r="2.8" fill="#000" stroke="none"/>
<circle cx="2239.5" cy="456.9" r="2.9" fill="#000" stroke="none"/>
<circle cx="2310.7" cy="403.7" r="4.5" fill="#000" stroke="none"/>
<circle cx="2525.8" cy="380.5" r="4.4" fill="#000" stroke="none"/>
<circle cx="2344.0" cy="412.3" r="3.7" fill="#000" stroke="none"/>
<circle cx="2262.1" cy="366.4" r="4.1" fill="#000" stroke="none"/>
<ellipse cx="2432.1" cy="370.9" rx="9.7" ry="3.9" transform="rotate(173 2432.1 370.9)" fill="#000" stroke="none"/>
<circle cx="2225.0" cy="472.0" r="4.3" fill="#000" stroke="none"/>
<circle cx="2316.5" cy="443.4" r="4.7" fill="#000" stroke="none"/>
<circle cx="2360.7" cy="419.7" r="2.8" fill="#000" stroke="none"/>
<circle cx="2263.3" cy="461.8" r="4.7" fill="#000" stroke="none"/>
<ellipse cx="2273.8" cy="416.5" rx="6.0" ry="2.4" transform="rotate(180 2273.8 416.5)" fill="#000" stroke="none"/>
<ellipse cx="2326.4" cy="368.5" rx="8.5" ry="3.4" transform="rotate(39 2326.4 368.5)" fill="#000" stroke="none"/>
<ellipse cx="2388.1" cy="373.2" rx="9.6" ry="3.8" transform="rotate(132 2388.1 373.2)" fill="#000" stroke="none"/>
<circle cx="2298.7" cy="449.8" r="4.2" fill="#000" stroke="none"/>
<ellipse cx="2437.8" cy="355.8" rx="6.9" ry="2.8" transform="rotate(82 2437.8 355.8)" fill="#000" stroke="none"/>
<circle cx="2319.8" cy="477.5" r="3.4" fill="#000" stroke="none"/>
<ellipse cx="2355.5" cy="365.6" rx="9.6" ry="3.9" transform="rotate(159 2355.5 365.6)" fill="#000" stroke="none"/>
<circle cx="2251.1" cy="433.3" r="4.4" fill="#000" stroke="none"/>
<circle cx="2275.8" cy="375.8" r="4.7" fill="#000" stroke="none"/>
<circle cx="2231.4" cy="440.8" r="4.1" fill="#000" stroke="none"/>
<circle cx="2322.4" cy="391.4" r="4.0" fill="#000" stroke="none"/>
<circle cx="2337.8" cy="394.8" r="4.7" fill="#000" stroke="none"/>
<circle cx="2333.2" cy="451.5" r="4.3" fill="#000" stroke="none"/>
<circle cx="2248.2" cy="472.0" r="4.8" fill="#000" stroke="none"/>
<circle cx="2342.3" cy="433.5" r="3.3" fill="#000" stroke="none"/>
<circle cx="2274.6" cy="433.1" r="4.3" fill="#000" stroke="none"/>
<circle cx="2480.4" cy="383.4" r="2.8" fill="#000" stroke="none"/>
<circle cx="2249.8" cy="387.1" r="2.9" fill="#000" stroke="none"/>
<circle cx="2408.2" cy="369.5" r="2.7" fill="#000" stroke="none"/>
<ellipse cx="2462.6" cy="366.4" rx="6.8" ry="2.7" transform="rotate(146 2462.6 366.4)" fill="#000" stroke="none"/>
<ellipse cx="2363.1" cy="396.1" rx="6.1" ry="2.4" transform="rotate(100 2363.1 396.1)" fill="#000" stroke="none"/>
<circle cx="2312.8" cy="355.5" r="3.6" fill="#000" stroke="none"/>
<circle cx="2379.8" cy="413.8" r="3.7" fill="#000" stroke="none"/>
<circle cx="2371.7" cy="363.9" r="4.8" fill="#000" stroke="none"/>
<circle cx="2287.9" cy="410.1" r="4.4" fill="#000" stroke="none"/>
<ellipse cx="2285.0" cy="464.8" rx="5.4" ry="2.1" transform="rotate(94 2285.0 464.8)" fill="#000" stroke="none"/>
<circle cx="2481.7" cy="366.9" r="3.1" fill="#000" stroke="none"/>
<circle cx="2548.4" cy="385.7" r="4.9" fill="#000" stroke="none"/>
<ellipse cx="2238.2" cy="398.4" rx="5.5" ry="2.2" transform="rotate(10 2238.2 398.4)" fill="#000" stroke="none"/>
<circle cx="2312.7" cy="420.4" r="3.4" fill="#000" stroke="none"/>
<circle cx="2298.8" cy="495.4" r="2.9" fill="#000" stroke="none"/>
<ellipse cx="2233.9" cy="426.2" rx="6.5" ry="2.6" transform="rotate(44 2233.9 426.2)" fill="#000" stroke="none"/>
<circle cx="2292.4" cy="434.9" r="3.0" fill="#000" stroke="none"/>
<circle cx="2504.5" cy="387.7" r="4.9" fill="#000" stroke="none"/>
<ellipse cx="2292.6" cy="356.2" rx="6.0" ry="2.4" transform="rotate(88 2292.6 356.2)" fill="#000" stroke="none"/>
<ellipse cx="2229.3" cy="491.1" rx="8.4" ry="3.4" transform="rotate(104 2229.3 491.1)" fill="#000" stroke="none"/>
<circle cx="2295.7" cy="390.7" r="3.8" fill="#000" stroke="none"/>
<circle cx="2531.2" cy="974.3" r="4.6" fill="#000" stroke="none"/>
<circle cx="2548.5" cy="535.8" r="4.4" fill="#000" stroke="none"/>
<circle cx="2389.2" cy="671.2" r="3.3" fill="#000" stroke="none"/>
<ellipse cx="2508.0" cy="573.7" rx="8.3" ry="3.3" transform="rotate(22 2508.0 573.7)" fill="#000" stroke="none"/>
<ellipse cx="2534.1" cy="916.7" rx="6.7" ry="2.7" transform="rotate(65 2534.1 916.7)" fill="#000" stroke="none"/>
<circle cx="2550.9" cy="811.8" r="2.7" fill="#000" stroke="none"/>
<circle cx="2486.4" cy="715.5" r="4.5" fill="#000" stroke="none"/>
<ellipse cx="2398.7" cy="613.0" rx="6.2" ry="2.5" transform="rotate(149 2398.7 613.0)" fill="#000" stroke="none"/>
<ellipse cx="2440.3" cy="931.6" rx="8.1" ry="3.3" transform="rotate(114 2440.3 931.6)" fill="#000" stroke="none"/>
<circle cx="2472.7" cy="641.4" r="4.8" fill="#000" stroke="none"/>
<ellipse cx="2553.6" cy="471.0" rx="5.0" ry="2.0" transform="rotate(143 2553.6 471.0)" fill="#000" stroke="none"/>
<ellipse cx="2546.6" cy="428.9" rx="7.0" ry="2.8" transform="rotate(82 2546.6 428.9)" fill="#000" stroke="none"/>
<ellipse cx="2505.9" cy="842.9" rx="7.0" ry="2.8" transform="rotate(99 2505.9 842.9)" fill="#000" stroke="none"/>
<ellipse cx="2388.1" cy="749.0" rx="10.0" ry="4.0" transform="rotate(166 2388.1 749.0)" fill="#000" stroke="none"/>
<circle cx="2439.9" cy="696.7" r="4.8" fill="#000" stroke="none"/>
<circle cx="2482.9" cy="979.5" r="4.3" fill="#000" stroke="none"/>
<circle cx="2383.5" cy="504.4" r="2.7" fill="#000" stroke="none"/>
<circle cx="2495.2" cy="777.5" r="4.4" fill="#000" stroke="none"/>
<circle cx="2468.9" cy="444.1" r="4.9" fill="#000" stroke="none"/>
<ellipse cx="2474.9" cy="519.5" rx="9.3" ry="3.7" transform="rotate(172 2474.9 519.5)" fill="#000" stroke="none"/>
<circle cx="2382.4" cy="791.8" r="4.3" fill="#000" stroke="none"/>
<ellipse cx="2454.0" cy="895.5" rx="9.6" ry="3.9" transform="rotate(99 2454.0 895.5)" fill="#000" stroke="none"/>
<circle cx="2418.6" cy="439.1" r="4.9" fill="#000" stroke="none"/>
<circle cx="2371.2" cy="825.1" r="3.9" fill="#000" stroke="none"/>
<ellipse cx="2430.6" cy="781.8" rx="7.5" ry="3.0" transform="rotate(111 2430.6 781.8)" fill="#000" stroke="none"/>
<circle cx="2401.3" cy="707.8" r="3.0" fill="#000" stroke="none"/>
<circle cx="2555.5" cy="875.2" r="4.3" fill="#000" stroke="none"/>
<ellipse cx="2464.3" cy="588.3" rx="9.9" ry="4.0" transform="rotate(115 2464.3 588.3)" fill="#000" stroke="none"/>
<ellipse cx="2338.3" cy="640.0" rx="9.0" ry="3.6" transform="rotate(169 2338.3 640.0)" fill="#000" stroke="none"/>
<circle cx="2374.6" cy="925.7" r="4.0" fill="#000" stroke="none"/>
<circle cx="2522.5" cy="664.7" r="2.9" fill="#000" stroke="none"/>
<circle cx="2398.2" cy="467.7" r="4.6" fill="#000" stroke="none"/>
<circle cx="2440.8" cy="506.8" r="3.8" fill="#000" stroke="none"/>
<circle cx="2535.8" cy="743.9" r="2.6" fill="#000" stroke="none"/>
<circle cx="2360.0" cy="538.8" r="4.4" fill="#000" stroke="none"/>
<circle cx="2469.4" cy="845.0" r="3.0" fill="#000" stroke="none"/>
<circle cx="2428.2" cy="973.8" r="2.9" fill="#000" stroke="none"/>
<circle cx="2350.4" cy="719.8" r="2.7" fill="#000" stroke="none"/>
<circle cx="2503.2" cy="413.1" r="4.9" fill="#000" stroke="none"/>
<circle cx="2353.8" cy="584.7" r="3.9" fill="#000" stroke="none"/>
<g clip-path="url(#c5)">
<line x1="2259.0" y1="680.0" x2="2619.0" y2="320.0" stroke-width="4"/>
<line x1="2259.0" y1="845.0" x2="2619.0" y2="485.0" stroke-width="4"/>
<line x1="2259.0" y1="993.0" x2="2619.0" y2="633.0" stroke-width="4"/>
<line x1="2259.0" y1="1148.0" x2="2619.0" y2="788.0" stroke-width="4"/>
</g>
<ellipse cx="2410.0" cy="463.0" rx="12.0" ry="24.0" transform="rotate(40 2410.0 463.0)" stroke-width="7"/>
<ellipse cx="2503.0" cy="540.0" rx="12.0" ry="24.0" transform="rotate(40 2503.0 540.0)" stroke-width="7"/>
<ellipse cx="2389.0" cy="633.0" rx="12.0" ry="24.0" transform="rotate(40 2389.0 633.0)" stroke-width="7"/>
<ellipse cx="2498.0" cy="663.0" rx="12.0" ry="24.0" transform="rotate(40 2498.0 663.0)" stroke-width="7"/>
<ellipse cx="2386.0" cy="760.0" rx="12.0" ry="24.0" transform="rotate(40 2386.0 760.0)" stroke-width="7"/>
<ellipse cx="2497.0" cy="855.0" rx="12.0" ry="24.0" transform="rotate(40 2497.0 855.0)" stroke-width="7"/>
<ellipse cx="2403.0" cy="900.0" rx="12.0" ry="24.0" transform="rotate(40 2403.0 900.0)" stroke-width="7"/>
<ellipse cx="2510.0" cy="950.0" rx="12.0" ry="24.0" transform="rotate(40 2510.0 950.0)" stroke-width="7"/>
<polyline points="2236.0,347.0 2022.0,347.0" fill="none" stroke-width="6"/>
<line x1="2022.0" y1="347.0" x2="2012.0" y2="997.0" stroke-width="6"/>
<path d="M2017,716 C2017,726 2003,724 2003,730 C2003,736 2017,734 2017,744" fill="none" stroke-width="5"/>
<line x1="2012.0" y1="997.0" x2="2372.0" y2="997.0" stroke-width="6"/>
<polyline points="2236.0,347.0 2569.0,347.0 2569.0,997.0 2372.0,997.0 2309.0,507.0 2199.0,507.0 2236.0,347.0" fill="none" stroke-width="11"/>
<polyline points="2569.0,397.0 2429.0,397.0" fill="none" stroke-width="5"/>
<path d="M2429,397 C2400,397 2385,410 2369,433 L2322,497" fill="none" stroke-width="5"/>
<line x1="2246.0" y1="352.0" x2="2215.0" y2="500.0" stroke-width="4"/>
<line x1="2199.0" y1="230.0" x2="2199.0" y2="1110.0" stroke-width="5"/>
<line x1="2309.0" y1="507.0" x2="2309.0" y2="1110.0" stroke-width="5"/>
<line x1="2368.0" y1="997.0" x2="2368.0" y2="1110.0" stroke-width="5"/>
<line x1="2459.0" y1="987.0" x2="2459.0" y2="1110.0" stroke-width="5"/>
<line x1="1892.0" y1="507.0" x2="2199.0" y2="507.0" stroke-width="5"/>
<line x1="1896.0" y1="347.0" x2="1996.0" y2="347.0" stroke-width="5"/>
<line x1="1919.0" y1="333.0" x2="1919.0" y2="527.0" stroke-width="5"/>
<line x1="1909.4" y1="363.0" x2="1928.6" y2="331.0" stroke-width="5"/>
<line x1="1909.4" y1="523.0" x2="1928.6" y2="491.0" stroke-width="5"/>
<text transform="translate(1903.0,430.0) rotate(-90)" text-anchor="middle" style="font-size:49.4px;font-weight:bold;font-family:&quot;Liberation Sans&quot;,sans-serif;" stroke="#000" stroke-width="2.2">80</text>
<line x1="2179.0" y1="243.0" x2="2289.0" y2="243.0" stroke-width="5"/>
<line x1="2189.4" y1="259.0" x2="2208.6" y2="227.0" stroke-width="5"/>
<line x1="2222.4" y1="259.0" x2="2241.6" y2="227.0" stroke-width="5"/>
<line x1="2249.4" y1="259.0" x2="2268.6" y2="227.0" stroke-width="5"/>
<line x1="2232.0" y1="247.0" x2="2232.0" y2="347.0" stroke-width="5"/>
<line x1="2259.0" y1="247.0" x2="2259.0" y2="347.0" stroke-width="5"/>
<text transform="translate(2166.0,228.0)" text-anchor="start" textLength="121.0" lengthAdjust="spacingAndGlyphs" style="font-size:52.1px;font-weight:bold;font-family:&quot;Liberation Sans&quot;,sans-serif;" stroke="#000" stroke-width="2.3">10 16</text>
<line x1="2335.0" y1="563.0" x2="2446.0" y2="563.0" stroke-width="5"/>
<line x1="2329.4" y1="579.0" x2="2348.6" y2="547.0" stroke-width="5"/>
<line x1="2409.4" y1="579.0" x2="2428.6" y2="547.0" stroke-width="5"/>
<line x1="2339.0" y1="533.0" x2="2339.0" y2="697.0" stroke-width="5"/>
<polyline points="2417,551 2417,694 2428,799 2442,866 2452,940 2459,991" stroke-width="8" stroke-dasharray="130,14"/>
<text transform="translate(2355.0,552.0)" text-anchor="start" textLength="63.0" lengthAdjust="spacingAndGlyphs" style="font-size:49.4px;font-weight:bold;font-family:&quot;Liberation Sans&quot;,sans-serif;" stroke="#000" stroke-width="2.2">40</text>
<line x1="2449.0" y1="683.0" x2="2706.0" y2="683.0" stroke-width="5"/>
<line x1="2582.0" y1="347.0" x2="2789.0" y2="347.0" stroke-width="5"/>
<line x1="2569.0" y1="1000.0" x2="2799.0" y2="1000.0" stroke-width="5"/>
<line x1="2682.0" y1="333.0" x2="2682.0" y2="1027.0" stroke-width="5"/>
<line x1="2672.4" y1="363.0" x2="2691.6" y2="331.0" stroke-width="5"/>
<line x1="2672.4" y1="699.0" x2="2691.6" y2="667.0" stroke-width="5"/>
<line x1="2672.4" y1="1013.0" x2="2691.6" y2="981.0" stroke-width="5"/>
<line x1="2776.0" y1="333.0" x2="2776.0" y2="1027.0" stroke-width="5"/>
<line x1="2766.4" y1="363.0" x2="2785.6" y2="331.0" stroke-width="5"/>
<line x1="2766.4" y1="1013.0" x2="2785.6" y2="981.0" stroke-width="5"/>
<text transform="translate(2658.0,493.0) rotate(-90)" text-anchor="middle" style="font-size:49.4px;font-weight:bold;font-family:&quot;Liberation Sans&quot;,sans-serif;" stroke="#000" stroke-width="2.2">170</text>
<text transform="translate(2658.0,853.0) rotate(-90)" text-anchor="middle" style="font-size:49.4px;font-weight:bold;font-family:&quot;Liberation Sans&quot;,sans-serif;" stroke="#000" stroke-width="2.2">130</text>
<text transform="translate(2760.0,697.0) rotate(-90)" text-anchor="middle" style="font-size:54.9px;font-weight:bold;font-family:&quot;Liberation Sans&quot;,sans-serif;" stroke="#000" stroke-width="2.4">300</text>
<line x1="2179.0" y1="1090.0" x2="2479.0" y2="1090.0" stroke-width="5"/>
<line x1="2189.4" y1="1106.0" x2="2208.6" y2="1074.0" stroke-width="5"/>
<line x1="2299.4" y1="1106.0" x2="2318.6" y2="1074.0" stroke-width="5"/>
<line x1="2358.4" y1="1106.0" x2="2377.6" y2="1074.0" stroke-width="5"/>
<line x1="2449.4" y1="1106.0" x2="2468.6" y2="1074.0" stroke-width="5"/>
<text transform="translate(2216.0,1075.0)" text-anchor="start" textLength="60.0" lengthAdjust="spacingAndGlyphs" style="font-size:54.9px;font-weight:bold;font-family:&quot;Liberation Sans&quot;,sans-serif;" stroke="#000" stroke-width="2.4">50</text>
<text transform="translate(2310.0,1075.0)" text-anchor="start" textLength="50.0" lengthAdjust="spacingAndGlyphs" style="font-size:52.1px;font-weight:bold;font-family:&quot;Liberation Sans&quot;,sans-serif;" stroke="#000" stroke-width="2.3">25</text>
<text transform="translate(2382.0,1075.0)" text-anchor="start" textLength="64.0" lengthAdjust="spacingAndGlyphs" style="font-size:54.9px;font-weight:bold;font-family:&quot;Liberation Sans&quot;,sans-serif;" stroke="#000" stroke-width="2.4">40</text>
<text transform="translate(2282.0,1245.0)" text-anchor="start" textLength="130.0" lengthAdjust="spacing" style="font-size:68.6px;font-weight:bold;font-family:&quot;Liberation Sans&quot;,sans-serif;" stroke="#000" stroke-width="3.0">1 - 1</text>
<line x1="2252.0" y1="1267.0" x2="2452.0" y2="1267.0" stroke-width="7"/>
<line x1="2192.0" y1="1367.0" x2="2779.0" y2="1367.0" stroke-width="6"/>
<path d="M2508,1367 C2518,1367 2516,1345 2522,1345 C2528,1345 2526,1367 2536,1367" fill="none" stroke-width="5"/>
<line x1="2775.0" y1="1347.0" x2="2775.0" y2="1933.0" stroke-width="6"/>
<path d="M2775,1686 C2775,1696 2757,1694 2757,1700 C2757,1706 2775,1704 2775,1714" fill="none" stroke-width="5"/>
<line x1="1996.0" y1="1917.0" x2="2775.0" y2="1917.0" stroke-width="6"/>
<path d="M2348,1917 C2358,1917 2356,1895 2362,1895 C2368,1895 2366,1917 2376,1917" fill="none" stroke-width="5"/>
<line x1="2009.0" y1="1653.0" x2="2009.0" y2="1917.0" stroke-width="6"/>
<polyline points="2206.0,1370.0 2206.0,1610.0 2239.0,1610.0 2239.0,1657.0 2009.0,1657.0" fill="none" stroke-width="6"/>
<polyline points="2306.0,1370.0 2306.0,1717.0 2009.0,1719.0" fill="none" stroke-width="6"/>
<polyline points="2376.0,1370.0 2376.0,1610.0 2479.0,1610.0 2479.0,1793.0 2009.0,1793.0" fill="none" stroke-width="11"/>
<polygon points="2339.0,1643.0 2436.0,1643.0 2436.0,1757.0 2339.0,1757.0" fill="none" stroke-width="8"/>
<line x1="2339.0" y1="1643.0" x2="2376.0" y2="1617.0" stroke-width="6"/>
<line x1="2436.0" y1="1643.0" x2="2470.0" y2="1617.0" stroke-width="6"/>
<line x1="2436.0" y1="1757.0" x2="2472.0" y2="1787.0" stroke-width="6"/>
<line x1="2339.0" y1="1757.0" x2="2306.0" y2="1719.0" stroke-width="6"/>
<polyline points="2382.0,1700.0 1949.0,1977.0 1649.0,1977.0 1375.0,2093.0" fill="none" stroke-width="4"/>
<text transform="translate(1649.0,1965.0) scale(0.7,1)" text-anchor="start" textLength="430.0" lengthAdjust="spacing" style="font-size:49.4px;font-weight:bold;font-family:&quot;Liberation Sans&quot;,sans-serif;" stroke="#000" stroke-width="2.2">БОРОЗДА ДЛЯ</text>
<text transform="translate(1649.0,2030.0) scale(0.7,1)" text-anchor="start" textLength="437.1" lengthAdjust="spacing" style="font-size:49.4px;font-weight:bold;font-family:&quot;Liberation Sans&quot;,sans-serif;" stroke="#000" stroke-width="2.2">ПОДОКОННОЙ</text>
<text transform="translate(1672.0,2080.0) scale(0.7,1)" text-anchor="start" textLength="240.0" lengthAdjust="spacing" style="font-size:46.6px;font-weight:bold;font-family:&quot;Liberation Sans&quot;,sans-serif;" stroke="#000" stroke-width="2.0">ДОСКИ</text>
<line x1="2192.0" y1="1517.0" x2="2495.0" y2="1517.0" stroke-width="5"/>
<line x1="2196.4" y1="1533.0" x2="2215.6" y2="1501.0" stroke-width="5"/>
<line x1="2296.4" y1="1533.0" x2="2315.6" y2="1501.0" stroke-width="5"/>
<line x1="2366.4" y1="1533.0" x2="2385.6" y2="1501.0" stroke-width="5"/>
<line x1="2426.4" y1="1533.0" x2="2445.6" y2="1501.0" stroke-width="5"/>
<line x1="2469.4" y1="1533.0" x2="2488.6" y2="1501.0" stroke-width="5"/>
<text transform="translate(2228.0,1500.0)" text-anchor="start" textLength="57.0" lengthAdjust="spacingAndGlyphs" style="font-size:52.1px;font-weight:bold;font-family:&quot;Liberation Sans&quot;,sans-serif;" stroke="#000" stroke-width="2.3">50</text>
<text transform="translate(2318.0,1500.0)" text-anchor="start" textLength="47.0" lengthAdjust="spacingAndGlyphs" style="font-size:49.4px;font-weight:bold;font-family:&quot;Liberation Sans&quot;,sans-serif;" stroke="#000" stroke-width="2.2">25</text>
<text transform="translate(2390.0,1500.0)" text-anchor="start" textLength="47.0" lengthAdjust="spacingAndGlyphs" style="font-size:49.4px;font-weight:bold;font-family:&quot;Liberation Sans&quot;,sans-serif;" stroke="#000" stroke-width="2.2">30</text>
<text transform="translate(2486.0,1500.0)" text-anchor="start" textLength="52.0" lengthAdjust="spacingAndGlyphs" style="font-size:52.1px;font-weight:bold;font-family:&quot;Liberation Sans&quot;,sans-serif;" stroke="#000" stroke-width="2.3">10</text>
<line x1="2436.0" y1="1510.0" x2="2436.0" y2="1643.0" stroke-width="5"/>
<line x1="2479.0" y1="1493.0" x2="2479.0" y2="1610.0" stroke-width="5"/>
<text transform="translate(2140.0,1557.0)" text-anchor="start" textLength="40.0" lengthAdjust="spacingAndGlyphs" style="font-size:46.6px;font-weight:bold;font-family:&quot;Liberation Sans&quot;,sans-serif;" stroke="#000" stroke-width="2.0">16</text>
<line x1="2192.0" y1="1560.0" x2="2249.0" y2="1560.0" stroke-width="5"/>
<line x1="2196.4" y1="1576.0" x2="2215.6" y2="1544.0" stroke-width="5"/>
<line x1="2229.4" y1="1576.0" x2="2248.6" y2="1544.0" stroke-width="5"/>
<line x1="2146.0" y1="1590.0" x2="2146.0" y2="1680.0" stroke-width="5"/>
<line x1="2136.4" y1="1626.0" x2="2155.6" y2="1594.0" stroke-width="5"/>
<line x1="2136.4" y1="1673.0" x2="2155.6" y2="1641.0" stroke-width="5"/>
<line x1="2140.0" y1="1610.0" x2="2206.0" y2="1610.0" stroke-width="5"/>
<text transform="translate(2130.0,1617.0) rotate(-90)" text-anchor="middle" style="font-size:43.9px;font-weight:bold;font-family:&quot;Liberation Sans&quot;,sans-serif;" stroke="#000" stroke-width="1.9">20</text>
<line x1="1902.0" y1="1633.0" x2="1902.0" y2="1793.0" stroke-width="5"/>
<line x1="1892.4" y1="1673.0" x2="1911.6" y2="1641.0" stroke-width="5"/>
<line x1="1892.4" y1="1738.0" x2="1911.6" y2="1706.0" stroke-width="5"/>
<line x1="1892.4" y1="1796.0" x2="1911.6" y2="1764.0" stroke-width="5"/>
<line x1="1889.0" y1="1657.0" x2="1989.0" y2="1657.0" stroke-width="5"/>
<line x1="1889.0" y1="1722.0" x2="1989.0" y2="1722.0" stroke-width="5"/>
<line x1="1889.0" y1="1780.0" x2="1996.0" y2="1780.0" stroke-width="5"/>
<text transform="translate(1888.0,1690.0) rotate(-90)" text-anchor="middle" style="font-size:43.9px;font-weight:bold;font-family:&quot;Liberation Sans&quot;,sans-serif;" stroke="#000" stroke-width="1.9">30</text>
<text transform="translate(1888.0,1752.0) rotate(-90)" text-anchor="middle" style="font-size:43.9px;font-weight:bold;font-family:&quot;Liberation Sans&quot;,sans-serif;" stroke="#000" stroke-width="1.9">25</text>
<line x1="2609.0" y1="1603.0" x2="2609.0" y2="1820.0" stroke-width="5"/>
<line x1="2599.4" y1="1626.0" x2="2618.6" y2="1594.0" stroke-width="5"/>
<line x1="2599.4" y1="1659.0" x2="2618.6" y2="1627.0" stroke-width="5"/>
<line x1="2599.4" y1="1769.0" x2="2618.6" y2="1737.0" stroke-width="5"/>
<line x1="2599.4" y1="1809.0" x2="2618.6" y2="1777.0" stroke-width="5"/>
<line x1="2479.0" y1="1610.0" x2="2622.0" y2="1610.0" stroke-width="5"/>
<line x1="2496.0" y1="1643.0" x2="2622.0" y2="1643.0" stroke-width="5"/>
<line x1="2496.0" y1="1753.0" x2="2622.0" y2="1753.0" stroke-width="5"/>
<line x1="2479.0" y1="1793.0" x2="2622.0" y2="1793.0" stroke-width="5"/>
<text transform="translate(2598.0,1573.0) rotate(-90)" text-anchor="middle" style="font-size:43.9px;font-weight:bold;font-family:&quot;Liberation Sans&quot;,sans-serif;" stroke="#000" stroke-width="1.9">10</text>
<text transform="translate(2598.0,1693.0) rotate(-90)" text-anchor="middle" style="font-size:46.6px;font-weight:bold;font-family:&quot;Liberation Sans&quot;,sans-serif;" stroke="#000" stroke-width="2.0">50</text>
<text transform="translate(2598.0,1830.0) rotate(-90)" text-anchor="middle" style="font-size:43.9px;font-weight:bold;font-family:&quot;Liberation Sans&quot;,sans-serif;" stroke="#000" stroke-width="1.9">15</text>
<text transform="translate(2290.0,2080.0)" text-anchor="start" textLength="115.0" lengthAdjust="spacing" style="font-size:65.8px;font-weight:bold;font-family:&quot;Liberation Sans&quot;,sans-serif;" stroke="#000" stroke-width="2.9">2 - 2</text>
<line x1="2256.0" y1="2097.0" x2="2449.0" y2="2097.0" stroke-width="7"/>
<line x1="2006.0" y1="2233.0" x2="2249.0" y2="2233.0" stroke-width="6"/>
<path d="M2108,2233 C2118,2233 2116,2219 2122,2219 C2128,2219 2126,2233 2136,2233" fill="none" stroke-width="5"/>
<line x1="2012.0" y1="2233.0" x2="2012.0" y2="2693.0" stroke-width="6"/>
<path d="M2012,2453 C2012,2463 1996,2461 1996,2467 C1996,2473 2012,2471 2012,2481" fill="none" stroke-width="5"/>
<line x1="2006.0" y1="2693.0" x2="2782.0" y2="2693.0" stroke-width="6"/>
<path d="M2352,2693 C2362,2693 2360,2677 2366,2677 C2372,2677 2370,2693 2380,2693" fill="none" stroke-width="5"/>
<line x1="2782.0" y1="2493.0" x2="2782.0" y2="2707.0" stroke-width="6"/>
<path d="M2782,2613 C2782,2623 2766,2621 2766,2627 C2766,2633 2782,2631 2782,2641" fill="none" stroke-width="5"/>
<line x1="2209.0" y1="2233.0" x2="2209.0" y2="2460.0" stroke-width="10"/>
<line x1="2229.0" y1="2233.0" x2="2229.0" y2="2477.0" stroke-width="5"/>
<polyline points="2169.0,2453.0 2229.0,2455.0" fill="none" stroke-width="8"/>
<polyline points="2169.0,2453.0 2169.0,2583.0 2782.0,2583.0" fill="none" stroke-width="11"/>
<line x1="2206.0" y1="2510.0" x2="2782.0" y2="2510.0" stroke-width="6"/>
<polyline points="2175.0,2465.0 2206.0,2510.0 2174.0,2573.0" fill="none" stroke-width="5"/>
<polyline points="2206.0,2510.0 2432.0,2343.0 2852.0,2343.0" fill="none" stroke-width="4"/>
<text transform="translate(2452.0,2330.0) scale(0.7,1)" text-anchor="start" textLength="518.6" lengthAdjust="spacing" style="font-size:49.4px;font-weight:bold;font-family:&quot;Liberation Sans&quot;,sans-serif;" stroke="#000" stroke-width="2.2">БОРОЗДА ДЛЯ</text>
<text transform="translate(2435.0,2395.0) scale(0.7,1)" text-anchor="start" textLength="618.6" lengthAdjust="spacing" style="font-size:49.4px;font-weight:bold;font-family:&quot;Liberation Sans&quot;,sans-serif;" stroke="#000" stroke-width="2.2">ЗАВОДКИ СЛИВА</text>
<line x1="2152.0" y1="2353.0" x2="2255.0" y2="2353.0" stroke-width="5"/>
<line x1="2159.4" y1="2369.0" x2="2178.6" y2="2337.0" stroke-width="5"/>
<line x1="2199.4" y1="2369.0" x2="2218.6" y2="2337.0" stroke-width="5"/>
<line x1="2219.4" y1="2369.0" x2="2238.6" y2="2337.0" stroke-width="5"/>
<line x1="2169.0" y1="2347.0" x2="2169.0" y2="2453.0" stroke-width="5"/>
<text transform="translate(2149.0,2335.0)" text-anchor="start" textLength="46.0" lengthAdjust="spacingAndGlyphs" style="font-size:49.4px;font-weight:bold;font-family:&quot;Liberation Sans&quot;,sans-serif;" stroke="#000" stroke-width="2.2">16</text>
<text transform="translate(2240.0,2335.0)" text-anchor="start" textLength="47.0" lengthAdjust="spacingAndGlyphs" style="font-size:49.4px;font-weight:bold;font-family:&quot;Liberation Sans&quot;,sans-serif;" stroke="#000" stroke-width="2.2">10</text>
<line x1="2126.0" y1="2447.0" x2="2126.0" y2="2613.0" stroke-width="5"/>
<line x1="2116.4" y1="2476.0" x2="2135.6" y2="2444.0" stroke-width="5"/>
<line x1="2116.4" y1="2499.0" x2="2135.6" y2="2467.0" stroke-width="5"/>
<line x1="2116.4" y1="2599.0" x2="2135.6" y2="2567.0" stroke-width="5"/>
<line x1="2112.0" y1="2460.0" x2="2152.0" y2="2460.0" stroke-width="5"/>
<line x1="2112.0" y1="2483.0" x2="2152.0" y2="2483.0" stroke-width="5"/>
<line x1="2112.0" y1="2583.0" x2="2152.0" y2="2583.0" stroke-width="5"/>
<text transform="translate(2112.0,2443.0) rotate(-90)" text-anchor="middle" style="font-size:41.2px;font-weight:bold;font-family:&quot;Liberation Sans&quot;,sans-serif;" stroke="#000" stroke-width="1.8">5</text>
<text transform="translate(2112.0,2533.0) rotate(-90)" text-anchor="middle" style="font-size:43.9px;font-weight:bold;font-family:&quot;Liberation Sans&quot;,sans-serif;" stroke="#000" stroke-width="1.9">50</text>
<line x1="2419.0" y1="2443.0" x2="2419.0" y2="2627.0" stroke-width="5"/>
<line x1="2409.4" y1="2493.0" x2="2428.6" y2="2461.0" stroke-width="5"/>
<line x1="2409.4" y1="2529.0" x2="2428.6" y2="2497.0" stroke-width="5"/>
<line x1="2409.4" y1="2599.0" x2="2428.6" y2="2567.0" stroke-width="5"/>
<line x1="2242.0" y1="2477.0" x2="2439.0" y2="2477.0" stroke-width="5"/>
<text transform="translate(2403.0,2493.0) rotate(-90)" text-anchor="middle" style="font-size:41.2px;font-weight:bold;font-family:&quot;Liberation Sans&quot;,sans-serif;" stroke="#000" stroke-width="1.8">20</text>
<text transform="translate(2403.0,2553.0) rotate(-90)" text-anchor="middle" style="font-size:41.2px;font-weight:bold;font-family:&quot;Liberation Sans&quot;,sans-serif;" stroke="#000" stroke-width="1.8">30</text>
<circle cx="3037" cy="377" r="90" stroke-width="4"/>
<circle cx="3037" cy="377" r="80" stroke-width="6"/>
<text transform="translate(3037.0,403.0) scale(0.85,1)" text-anchor="middle" style="font-size:71.3px;font-weight:bold;font-family:&quot;Liberation Sans&quot;,sans-serif;" stroke="#000" stroke-width="3.1">23а</text>
<text transform="translate(3167.0,233.0) scale(0.8,1)" text-anchor="start" textLength="687.5" lengthAdjust="spacing" style="font-size:60.4px;font-weight:bold;font-family:&quot;Liberation Sans&quot;,sans-serif;" stroke="#000" stroke-width="2.6">ПРИ РАЗДЕЛЬНЫХ</text>
<text transform="translate(3237.0,290.0) scale(0.8,1)" text-anchor="start" textLength="500.0" lengthAdjust="spacing" style="font-size:54.9px;font-weight:bold;font-family:&quot;Liberation Sans&quot;,sans-serif;" stroke="#000" stroke-width="2.4">ПЕРЕПЛЕТАХ</text>
<text transform="translate(3901.0,233.0) scale(0.8,1)" text-anchor="start" textLength="620.0" lengthAdjust="spacing" style="font-size:60.4px;font-weight:bold;font-family:&quot;Liberation Sans&quot;,sans-serif;" stroke="#000" stroke-width="2.6">ПРИ СПАРЕННЫХ</text>
<text transform="translate(3937.0,290.0) scale(0.8,1)" text-anchor="start" textLength="450.0" lengthAdjust="spacing" style="font-size:54.9px;font-weight:bold;font-family:&quot;Liberation Sans&quot;,sans-serif;" stroke="#000" stroke-width="2.4">ПЕРЕПЛЕТАХ</text>
<line x1="3160.0" y1="348.0" x2="3583.0" y2="348.0" stroke-width="6"/>
<path d="M3389,348 C3399,348 3397,328 3403,328 C3409,328 3407,348 3417,348" fill="none" stroke-width="5"/>
<line x1="3154.0" y1="793.0" x2="3590.0" y2="793.0" stroke-width="6"/>
<path d="M3402,793 C3412,793 3410,777 3416,777 C3422,777 3420,793 3430,793" fill="none" stroke-width="5"/>
<line x1="3176.0" y1="348.0" x2="3176.0" y2="793.0" stroke-width="7"/>
<line x1="3301.0" y1="348.0" x2="3301.0" y2="793.0" stroke-width="7"/>
<line x1="3370.0" y1="348.0" x2="3370.0" y2="793.0" stroke-width="7"/>
<line x1="3568.0" y1="348.0" x2="3568.0" y2="793.0" stroke-width="6"/>
<path d="M3568,541 C3568,551 3554,549 3554,555 C3554,561 3568,559 3568,569" fill="none" stroke-width="5"/>
<polygon points="3318.0,459.0 3345.0,459.0 3345.0,680.0 3318.0,680.0" fill="none" stroke-width="7"/>
<path d="M3354,457 L3454,457 L3454,677 L3354,677" stroke-width="6" stroke-dasharray="40,18"/>
<line x1="3067.0" y1="544.0" x2="3156.0" y2="544.0" stroke-width="7"/>
<line x1="3078.0" y1="539.0" x2="3078.0" y2="635.0" stroke-width="8"/>
<text transform="translate(3100.0,626.0)" text-anchor="start" textLength="31.0" lengthAdjust="spacingAndGlyphs" style="font-size:65.8px;font-weight:bold;font-family:&quot;Liberation Sans&quot;,sans-serif;" stroke="#000" stroke-width="2.9">3</text>
<line x1="3588.0" y1="542.0" x2="3672.0" y2="542.0" stroke-width="7"/>
<line x1="3668.0" y1="537.0" x2="3668.0" y2="623.0" stroke-width="8"/>
<text transform="translate(3610.0,623.0)" text-anchor="start" textLength="29.0" lengthAdjust="spacingAndGlyphs" style="font-size:63.1px;font-weight:bold;font-family:&quot;Liberation Sans&quot;,sans-serif;" stroke="#000" stroke-width="2.8">3</text>
<line x1="3884.0" y1="337.0" x2="4311.0" y2="337.0" stroke-width="6"/>
<path d="M4110,337 C4120,337 4118,323 4124,323 C4130,323 4128,337 4138,337" fill="none" stroke-width="5"/>
<line x1="3895.0" y1="787.0" x2="4337.0" y2="787.0" stroke-width="6"/>
<path d="M4123,787 C4133,787 4131,771 4137,771 C4143,771 4141,787 4151,787" fill="none" stroke-width="5"/>
<line x1="3901.0" y1="337.0" x2="3901.0" y2="787.0" stroke-width="7"/>
<line x1="4021.0" y1="337.0" x2="4021.0" y2="787.0" stroke-width="7"/>
<line x1="4084.0" y1="337.0" x2="4084.0" y2="787.0" stroke-width="7"/>
<line x1="4297.0" y1="337.0" x2="4297.0" y2="787.0" stroke-width="6"/>
<path d="M3901,573 C3901,583 3889,581 3889,587 C3889,593 3901,591 3901,601" fill="none" stroke-width="5"/>
<path d="M4297,533 C4297,543 4283,541 4283,547 C4283,553 4297,551 4297,561" fill="none" stroke-width="5"/>
<polygon points="4024.0,467.0 4051.0,467.0 4051.0,673.0 4024.0,673.0" fill="none" stroke-width="7"/>
<path d="M4051,460 L4147,460 L4147,673 L4051,673" stroke-width="6" stroke-dasharray="40,18"/>
<line x1="3804.0" y1="543.0" x2="3874.0" y2="543.0" stroke-width="7"/>
<line x1="3811.0" y1="543.0" x2="3811.0" y2="623.0" stroke-width="8"/>
<text transform="translate(3820.0,620.0)" text-anchor="start" textLength="38.0" lengthAdjust="spacingAndGlyphs" style="font-size:63.1px;font-weight:bold;font-family:&quot;Liberation Sans&quot;,sans-serif;" stroke="#000" stroke-width="2.8">4</text>
<line x1="4317.0" y1="543.0" x2="4417.0" y2="543.0" stroke-width="7"/>
<line x1="4411.0" y1="543.0" x2="4411.0" y2="620.0" stroke-width="8"/>
<text transform="translate(4340.0,620.0)" text-anchor="start" textLength="44.0" lengthAdjust="spacingAndGlyphs" style="font-size:63.1px;font-weight:bold;font-family:&quot;Liberation Sans&quot;,sans-serif;" stroke="#000" stroke-width="2.8">4</text>
<polyline points="4454.0,112.0 4454.0,233.0 4591.0,233.0" fill="none" stroke-width="7"/>
<text transform="translate(4490.0,205.0)" text-anchor="start" textLength="62.0" lengthAdjust="spacingAndGlyphs" style="font-size:65.8px;font-weight:bold;font-family:&quot;Liberation Sans&quot;,sans-serif;" stroke="#000" stroke-width="2.9">34</text>
<text transform="translate(3290.0,945.0)" text-anchor="start" textLength="115.0" lengthAdjust="spacing" style="font-size:65.8px;font-weight:bold;font-family:&quot;Liberation Sans&quot;,sans-serif;" stroke="#000" stroke-width="2.9">3 - 3</text>
<line x1="3261.0" y1="960.0" x2="3481.0" y2="960.0" stroke-width="7"/>
<text transform="translate(4090.0,945.0)" text-anchor="start" textLength="95.0" lengthAdjust="spacing" style="font-size:65.8px;font-weight:bold;font-family:&quot;Liberation Sans&quot;,sans-serif;" stroke="#000" stroke-width="2.9">4-4</text>
<line x1="4031.0" y1="960.0" x2="4244.0" y2="960.0" stroke-width="7"/>
<ellipse cx="3225.6" cy="1076.9" rx="9.0" ry="3.6" transform="rotate(154 3225.6 1076.9)" fill="#000" stroke="none"/>
<circle cx="3470.4" cy="1099.8" r="3.9" fill="#000" stroke="none"/>
<ellipse cx="3245.9" cy="1160.4" rx="9.5" ry="3.8" transform="rotate(178 3245.9 1160.4)" fill="#000" stroke="none"/>
<circle cx="3331.9" cy="1162.8" r="4.1" fill="#000" stroke="none"/>
<circle cx="3261.8" cy="1188.6" r="4.5" fill="#000" stroke="none"/>
<circle cx="3317.1" cy="1127.3" r="3.0" fill="#000" stroke="none"/>
<circle cx="3270.3" cy="1104.7" r="5.0" fill="#000" stroke="none"/>
<ellipse cx="3268.0" cy="1166.0" rx="7.3" ry="2.9" transform="rotate(89 3268.0 1166.0)" fill="#000" stroke="none"/>
<circle cx="3473.3" cy="1078.9" r="4.3" fill="#000" stroke="none"/>
<circle cx="3535.2" cy="1101.6" r="4.2" fill="#000" stroke="none"/>
<circle cx="3536.7" cy="1079.3" r="2.9" fill="#000" stroke="none"/>
<circle cx="3259.6" cy="1074.2" r="3.3" fill="#000" stroke="none"/>
<ellipse cx="3287.0" cy="1124.7" rx="9.4" ry="3.7" transform="rotate(163 3287.0 1124.7)" fill="#000" stroke="none"/>
<circle cx="3322.2" cy="1079.1" r="4.0" fill="#000" stroke="none"/>
<circle cx="3332.1" cy="1096.9" r="3.7" fill="#000" stroke="none"/>
<circle cx="3203.5" cy="1145.1" r="4.9" fill="#000" stroke="none"/>
<circle cx="3213.1" cy="1191.9" r="4.6" fill="#000" stroke="none"/>
<ellipse cx="3426.4" cy="1103.0" rx="6.0" ry="2.4" transform="rotate(0 3426.4 1103.0)" fill="#000" stroke="none"/>
<circle cx="3420.3" cy="1087.4" r="3.4" fill="#000" stroke="none"/>
<ellipse cx="3366.1" cy="1087.3" rx="7.0" ry="2.8" transform="rotate(164 3366.1 1087.3)" fill="#000" stroke="none"/>
<ellipse cx="3236.1" cy="1206.5" rx="7.2" ry="2.9" transform="rotate(23 3236.1 1206.5)" fill="#000" stroke="none"/>
<circle cx="3242.9" cy="1133.9" r="4.2" fill="#000" stroke="none"/>
<ellipse cx="3198.2" cy="1215.2" rx="5.0" ry="2.0" transform="rotate(54 3198.2 1215.2)" fill="#000" stroke="none"/>
<ellipse cx="3200.6" cy="1175.9" rx="9.6" ry="3.8" transform="rotate(4 3200.6 1175.9)" fill="#000" stroke="none"/>
<ellipse cx="3386.9" cy="1098.6" rx="8.0" ry="3.2" transform="rotate(81 3386.9 1098.6)" fill="#000" stroke="none"/>
<ellipse cx="3278.4" cy="1183.9" rx="8.8" ry="3.5" transform="rotate(88 3278.4 1183.9)" fill="#000" stroke="none"/>
<circle cx="3278.8" cy="1075.3" r="3.7" fill="#000" stroke="none"/>
<circle cx="3344.2" cy="1075.6" r="3.7" fill="#000" stroke="none"/>
<circle cx="3307.2" cy="1189.8" r="3.8" fill="#000" stroke="none"/>
<circle cx="3262.2" cy="1205.3" r="4.0" fill="#000" stroke="none"/>
<circle cx="3327.4" cy="1144.1" r="4.2" fill="#000" stroke="none"/>
<circle cx="3245.6" cy="1193.4" r="4.1" fill="#000" stroke="none"/>
<circle cx="3222.9" cy="1155.3" r="4.8" fill="#000" stroke="none"/>
<ellipse cx="3393.5" cy="1078.8" rx="8.2" ry="3.3" transform="rotate(160 3393.5 1078.8)" fill="#000" stroke="none"/>
<ellipse cx="3226.3" cy="1173.4" rx="7.6" ry="3.0" transform="rotate(75 3226.3 1173.4)" fill="#000" stroke="none"/>
<ellipse cx="3451.0" cy="1073.6" rx="6.6" ry="2.6" transform="rotate(167 3451.0 1073.6)" fill="#000" stroke="none"/>
<circle cx="3271.5" cy="1146.3" r="4.6" fill="#000" stroke="none"/>
<circle cx="3293.9" cy="1101.2" r="3.9" fill="#000" stroke="none"/>
<circle cx="3255.0" cy="1115.8" r="3.6" fill="#000" stroke="none"/>
<circle cx="3313.5" cy="1108.6" r="3.2" fill="#000" stroke="none"/>
<circle cx="3504.4" cy="1082.6" r="3.7" fill="#000" stroke="none"/>
<circle cx="3407.6" cy="1097.5" r="4.1" fill="#000" stroke="none"/>
<ellipse cx="3223.0" cy="1099.4" rx="8.3" ry="3.3" transform="rotate(5 3223.0 1099.4)" fill="#000" stroke="none"/>
<ellipse cx="3209.5" cy="1109.0" rx="8.8" ry="3.5" transform="rotate(34 3209.5 1109.0)" fill="#000" stroke="none"/>
<circle cx="3344.5" cy="1124.5" r="4.3" fill="#000" stroke="none"/>
<circle cx="3241.7" cy="1086.3" r="3.5" fill="#000" stroke="none"/>
<circle cx="3444.2" cy="1097.7" r="4.0" fill="#000" stroke="none"/>
<circle cx="3279.2" cy="1200.8" r="4.8" fill="#000" stroke="none"/>
<circle cx="3285.4" cy="1164.3" r="3.7" fill="#000" stroke="none"/>
<circle cx="3209.1" cy="1127.8" r="2.6" fill="#000" stroke="none"/>
<circle cx="3526.7" cy="1300.9" r="2.9" fill="#000" stroke="none"/>
<circle cx="3470.4" cy="1491.3" r="3.7" fill="#000" stroke="none"/>
<circle cx="3479.0" cy="1453.4" r="4.7" fill="#000" stroke="none"/>
<circle cx="3535.4" cy="1590.0" r="4.4" fill="#000" stroke="none"/>
<circle cx="3464.6" cy="1137.6" r="3.9" fill="#000" stroke="none"/>
<circle cx="3496.4" cy="1561.3" r="4.5" fill="#000" stroke="none"/>
<circle cx="3523.4" cy="1248.0" r="2.9" fill="#000" stroke="none"/>
<circle cx="3456.8" cy="1672.8" r="4.3" fill="#000" stroke="none"/>
<ellipse cx="3436.7" cy="1520.7" rx="7.5" ry="3.0" transform="rotate(127 3436.7 1520.7)" fill="#000" stroke="none"/>
<circle cx="3436.2" cy="1422.3" r="5.0" fill="#000" stroke="none"/>
<ellipse cx="3381.3" cy="1512.0" rx="7.4" ry="3.0" transform="rotate(6 3381.3 1512.0)" fill="#000" stroke="none"/>
<ellipse cx="3463.7" cy="1616.2" rx="9.3" ry="3.7" transform="rotate(19 3463.7 1616.2)" fill="#000" stroke="none"/>
<circle cx="3353.5" cy="1561.2" r="2.6" fill="#000" stroke="none"/>
<ellipse cx="3518.5" cy="1127.2" rx="9.0" ry="3.6" transform="rotate(94 3518.5 1127.2)" fill="#000" stroke="none"/>
<circle cx="3484.0" cy="1231.0" r="2.6" fill="#000" stroke="none"/>
<circle cx="3497.1" cy="1661.7" r="2.6" fill="#000" stroke="none"/>
<circle cx="3385.8" cy="1402.8" r="3.8" fill="#000" stroke="none"/>
<circle cx="3368.1" cy="1470.5" r="3.4" fill="#000" stroke="none"/>
<circle cx="3415.4" cy="1165.5" r="4.9" fill="#000" stroke="none"/>
<circle cx="3460.6" cy="1271.1" r="2.8" fill="#000" stroke="none"/>
<ellipse cx="3425.4" cy="1292.8" rx="9.4" ry="3.8" transform="rotate(46 3425.4 1292.8)" fill="#000" stroke="none"/>
<circle cx="3392.0" cy="1210.4" r="2.6" fill="#000" stroke="none"/>
<circle cx="3354.7" cy="1422.6" r="4.2" fill="#000" stroke="none"/>
<ellipse cx="3420.2" cy="1608.8" rx="7.0" ry="2.8" transform="rotate(57 3420.2 1608.8)" fill="#000" stroke="none"/>
<circle cx="3550.8" cy="1336.9" r="4.4" fill="#000" stroke="none"/>
<ellipse cx="3506.0" cy="1352.1" rx="8.7" ry="3.5" transform="rotate(53 3506.0 1352.1)" fill="#000" stroke="none"/>
<circle cx="3553.2" cy="1374.2" r="4.5" fill="#000" stroke="none"/>
<circle cx="3561.6" cy="1256.5" r="2.6" fill="#000" stroke="none"/>
<circle cx="3456.2" cy="1333.2" r="3.8" fill="#000" stroke="none"/>
<circle cx="3343.2" cy="1355.9" r="3.2" fill="#000" stroke="none"/>
<circle cx="3393.0" cy="1320.0" r="4.2" fill="#000" stroke="none"/>
<circle cx="3561.3" cy="1564.4" r="3.7" fill="#000" stroke="none"/>
<ellipse cx="3401.0" cy="1661.1" rx="5.8" ry="2.3" transform="rotate(67 3401.0 1661.1)" fill="#000" stroke="none"/>
<circle cx="3352.0" cy="1236.0" r="2.9" fill="#000" stroke="none"/>
<circle cx="3434.0" cy="1197.5" r="3.7" fill="#000" stroke="none"/>
<ellipse cx="3428.3" cy="1254.2" rx="9.9" ry="4.0" transform="rotate(1 3428.3 1254.2)" fill="#000" stroke="none"/>
<circle cx="3413.6" cy="1375.0" r="3.7" fill="#000" stroke="none"/>
<circle cx="3522.2" cy="1431.5" r="2.9" fill="#000" stroke="none"/>
<circle cx="3404.5" cy="1464.4" r="3.4" fill="#000" stroke="none"/>
<circle cx="3492.5" cy="1409.5" r="3.7" fill="#000" stroke="none"/>
<g clip-path="url(#c6)">
<line x1="3246.0" y1="1410.0" x2="3622.0" y2="1034.0" stroke-width="4"/>
<line x1="3246.0" y1="1560.0" x2="3622.0" y2="1184.0" stroke-width="4"/>
<line x1="3246.0" y1="1710.0" x2="3622.0" y2="1334.0" stroke-width="4"/>
<line x1="3246.0" y1="1861.0" x2="3622.0" y2="1485.0" stroke-width="4"/>
<line x1="3246.0" y1="1990.0" x2="3622.0" y2="1614.0" stroke-width="4"/>
</g>
<ellipse cx="3394.0" cy="1180.0" rx="11.0" ry="24.0" transform="rotate(40 3394.0 1180.0)" stroke-width="7"/>
<ellipse cx="3532.0" cy="1200.0" rx="11.0" ry="24.0" transform="rotate(40 3532.0 1200.0)" stroke-width="7"/>
<ellipse cx="3498.0" cy="1400.0" rx="11.0" ry="24.0" transform="rotate(40 3498.0 1400.0)" stroke-width="7"/>
<ellipse cx="3490.0" cy="1520.0" rx="11.0" ry="24.0" transform="rotate(40 3490.0 1520.0)" stroke-width="7"/>
<ellipse cx="3412.0" cy="1620.0" rx="11.0" ry="24.0" transform="rotate(40 3412.0 1620.0)" stroke-width="7"/>
<ellipse cx="3481" cy="1265" rx="9" ry="15" transform="rotate(30 3481 1265)" fill="#000" stroke="none"/>
<polyline points="3062.0,1063.0 3209.0,1063.0" fill="none" stroke-width="5"/>
<polyline points="3209.0,1065.0 3572.0,1063.0 3572.0,1696.0 3354.0,1696.0 3296.0,1220.0 3178.0,1225.0 3209.0,1065.0" fill="none" stroke-width="11"/>
<line x1="3572.0" y1="1046.0" x2="3574.0" y2="1705.0" stroke-width="6"/>
<path d="M3574,1459 C3574,1469 3560,1467 3560,1473 C3560,1479 3574,1477 3574,1487" fill="none" stroke-width="5"/>
<line x1="3062.0" y1="1225.0" x2="3178.0" y2="1225.0" stroke-width="5"/>
<line x1="3060.0" y1="1357.0" x2="3292.0" y2="1357.0" stroke-width="5"/>
<line x1="3057.0" y1="1582.0" x2="3313.0" y2="1582.0" stroke-width="5"/>
<line x1="3236.0" y1="1072.0" x2="3207.0" y2="1222.0" stroke-width="4"/>
<path d="M3572,1114 L3396,1114 C3385,1114 3380,1120 3375,1127 L3296,1215" fill="none" stroke-width="5"/>
<polygon points="3323,1355 3417,1345 3451,1563 3354,1577" fill="#fff" stroke-width="7"/>
<line x1="3323.0" y1="1358.0" x2="3451.0" y2="1560.0" stroke-width="5"/>
<line x1="3417.0" y1="1348.0" x2="3345.0" y2="1572.0" stroke-width="5"/>
<line x1="3079.0" y1="1039.0" x2="3079.0" y2="1597.0" stroke-width="5"/>
<line x1="3069.4" y1="1079.0" x2="3088.6" y2="1047.0" stroke-width="5"/>
<line x1="3069.4" y1="1241.0" x2="3088.6" y2="1209.0" stroke-width="5"/>
<line x1="3069.4" y1="1376.0" x2="3088.6" y2="1344.0" stroke-width="5"/>
<line x1="3069.4" y1="1598.0" x2="3088.6" y2="1566.0" stroke-width="5"/>
<text transform="translate(3052.0,1145.0) rotate(-90)" text-anchor="middle" style="font-size:49.4px;font-weight:bold;font-family:&quot;Liberation Sans&quot;,sans-serif;" stroke="#000" stroke-width="2.2">80</text>
<text transform="translate(3052.0,1302.0) rotate(-90)" text-anchor="middle" style="font-size:49.4px;font-weight:bold;font-family:&quot;Liberation Sans&quot;,sans-serif;" stroke="#000" stroke-width="2.2">60</text>
<text transform="translate(3052.0,1471.0) rotate(-90)" text-anchor="middle" style="font-size:49.4px;font-weight:bold;font-family:&quot;Liberation Sans&quot;,sans-serif;" stroke="#000" stroke-width="2.2">100</text>
<line x1="3685.0" y1="1043.0" x2="3685.0" y2="1710.0" stroke-width="5"/>
<line x1="3675.4" y1="1074.0" x2="3694.6" y2="1042.0" stroke-width="5"/>
<line x1="3675.4" y1="1714.0" x2="3694.6" y2="1682.0" stroke-width="5"/>
<line x1="3580.0" y1="1058.0" x2="3705.0" y2="1058.0" stroke-width="5"/>
<line x1="3580.0" y1="1700.0" x2="3705.0" y2="1700.0" stroke-width="5"/>
<text transform="translate(3665.0,1394.0) rotate(-90)" text-anchor="middle" style="font-size:49.4px;font-weight:bold;font-family:&quot;Liberation Sans&quot;,sans-serif;" stroke="#000" stroke-width="2.2">300</text>
<polyline points="3388.0,1527.0 3975.0,1794.0 4512.0,1794.0" fill="none" stroke-width="4"/>
<line x1="4098.0" y1="1395.0" x2="3975.0" y2="1792.0" stroke-width="4"/>
<text transform="translate(4012.0,1780.0) scale(0.7,1)" text-anchor="start" textLength="498.6" lengthAdjust="spacing" style="font-size:54.9px;font-weight:bold;font-family:&quot;Liberation Sans&quot;,sans-serif;" stroke="#000" stroke-width="2.4">ДЕРЕВЯННЫЕ</text>
<text transform="translate(4020.0,1847.0) scale(0.75,1)" text-anchor="start" textLength="770.7" lengthAdjust="spacing" style="font-size:48.0px;font-weight:bold;font-family:&quot;Liberation Sans&quot;,sans-serif;" stroke="#000" stroke-width="2.1">АНТИСЕПТИРОВАННЫЕ</text>
<text transform="translate(4020.0,1904.0) scale(0.75,1)" text-anchor="start" textLength="676.0" lengthAdjust="spacing" style="font-size:46.6px;font-weight:bold;font-family:&quot;Liberation Sans&quot;,sans-serif;" stroke="#000" stroke-width="2.0">ПРОБКИ 100×100×50</text>
<ellipse cx="3954.7" cy="1070.1" rx="6.5" ry="2.6" transform="rotate(37 3954.7 1070.1)" fill="#000" stroke="none"/>
<ellipse cx="4157.7" cy="1093.8" rx="7.0" ry="2.8" transform="rotate(44 4157.7 1093.8)" fill="#000" stroke="none"/>
<circle cx="3945.0" cy="1103.2" r="3.5" fill="#000" stroke="none"/>
<circle cx="4063.5" cy="1126.7" r="3.3" fill="#000" stroke="none"/>
<circle cx="4071.4" cy="1076.7" r="2.8" fill="#000" stroke="none"/>
<circle cx="4011.5" cy="1109.5" r="2.8" fill="#000" stroke="none"/>
<circle cx="4011.1" cy="1194.3" r="3.9" fill="#000" stroke="none"/>
<circle cx="3976.1" cy="1106.5" r="4.6" fill="#000" stroke="none"/>
<ellipse cx="4026.6" cy="1088.8" rx="8.5" ry="3.4" transform="rotate(148 4026.6 1088.8)" fill="#000" stroke="none"/>
<circle cx="3965.7" cy="1197.1" r="3.4" fill="#000" stroke="none"/>
<ellipse cx="4032.6" cy="1118.9" rx="8.9" ry="3.6" transform="rotate(163 4032.6 1118.9)" fill="#000" stroke="none"/>
<ellipse cx="3972.6" cy="1073.5" rx="6.7" ry="2.7" transform="rotate(24 3972.6 1073.5)" fill="#000" stroke="none"/>
<circle cx="4203.7" cy="1087.9" r="3.8" fill="#000" stroke="none"/>
<circle cx="3958.1" cy="1157.5" r="4.3" fill="#000" stroke="none"/>
<ellipse cx="4080.4" cy="1111.0" rx="5.1" ry="2.0" transform="rotate(23 4080.4 1111.0)" fill="#000" stroke="none"/>
<ellipse cx="4028.2" cy="1148.9" rx="7.8" ry="3.1" transform="rotate(169 4028.2 1148.9)" fill="#000" stroke="none"/>
<ellipse cx="4004.4" cy="1163.4" rx="8.5" ry="3.4" transform="rotate(103 4004.4 1163.4)" fill="#000" stroke="none"/>
<circle cx="4140.4" cy="1077.9" r="4.0" fill="#000" stroke="none"/>
<ellipse cx="4096.4" cy="1075.5" rx="8.1" ry="3.3" transform="rotate(125 4096.4 1075.5)" fill="#000" stroke="none"/>
<circle cx="4217.9" cy="1074.0" r="3.1" fill="#000" stroke="none"/>
<circle cx="4288.0" cy="1071.5" r="3.0" fill="#000" stroke="none"/>
<circle cx="4199.6" cy="1065.7" r="4.8" fill="#000" stroke="none"/>
<circle cx="3985.8" cy="1166.3" r="2.9" fill="#000" stroke="none"/>
<circle cx="3956.0" cy="1133.9" r="4.0" fill="#000" stroke="none"/>
<circle cx="4028.7" cy="1174.2" r="4.1" fill="#000" stroke="none"/>
<circle cx="4045.3" cy="1100.9" r="4.0" fill="#000" stroke="none"/>
<circle cx="4015.7" cy="1134.3" r="4.8" fill="#000" stroke="none"/>
<ellipse cx="4109.9" cy="1092.0" rx="9.0" ry="3.6" transform="rotate(96 4109.9 1092.0)" fill="#000" stroke="none"/>
<circle cx="3989.6" cy="1199.2" r="2.6" fill="#000" stroke="none"/>
<circle cx="4044.8" cy="1078.6" r="4.7" fill="#000" stroke="none"/>
<ellipse cx="4254.6" cy="1070.8" rx="9.5" ry="3.8" transform="rotate(122 4254.6 1070.8)" fill="#000" stroke="none"/>
<ellipse cx="3941.8" cy="1188.9" rx="5.5" ry="2.2" transform="rotate(95 3941.8 1188.9)" fill="#000" stroke="none"/>
<circle cx="3987.4" cy="1139.4" r="3.5" fill="#000" stroke="none"/>
<ellipse cx="4104.5" cy="1115.8" rx="6.5" ry="2.6" transform="rotate(180 4104.5 1115.8)" fill="#000" stroke="none"/>
<circle cx="3995.8" cy="1068.9" r="4.1" fill="#000" stroke="none"/>
<ellipse cx="3997.9" cy="1183.5" rx="7.4" ry="3.0" transform="rotate(75 3997.9 1183.5)" fill="#000" stroke="none"/>
<circle cx="3937.9" cy="1125.0" r="4.6" fill="#000" stroke="none"/>
<circle cx="4237.1" cy="1068.4" r="4.1" fill="#000" stroke="none"/>
<circle cx="4008.9" cy="1084.1" r="4.1" fill="#000" stroke="none"/>
<circle cx="4246.1" cy="1087.7" r="2.7" fill="#000" stroke="none"/>
<circle cx="3927.0" cy="1201.6" r="2.5" fill="#000" stroke="none"/>
<circle cx="4119.9" cy="1071.6" r="4.4" fill="#000" stroke="none"/>
<ellipse cx="4017.6" cy="1068.6" rx="5.3" ry="2.1" transform="rotate(22 4017.6 1068.6)" fill="#000" stroke="none"/>
<circle cx="4225.5" cy="1095.2" r="2.9" fill="#000" stroke="none"/>
<ellipse cx="4273.5" cy="1088.3" rx="6.8" ry="2.7" transform="rotate(64 4273.5 1088.3)" fill="#000" stroke="none"/>
<circle cx="4213.8" cy="1472.2" r="3.7" fill="#000" stroke="none"/>
<circle cx="4147.0" cy="1647.5" r="3.2" fill="#000" stroke="none"/>
<circle cx="4135.1" cy="1163.9" r="3.4" fill="#000" stroke="none"/>
<circle cx="4061.1" cy="1291.7" r="2.9" fill="#000" stroke="none"/>
<circle cx="4229.1" cy="1133.2" r="3.6" fill="#000" stroke="none"/>
<ellipse cx="4280.6" cy="1533.1" rx="5.2" ry="2.1" transform="rotate(175 4280.6 1533.1)" fill="#000" stroke="none"/>
<circle cx="4255.7" cy="1429.7" r="4.3" fill="#000" stroke="none"/>
<ellipse cx="4115.5" cy="1263.5" rx="7.4" ry="3.0" transform="rotate(176 4115.5 1263.5)" fill="#000" stroke="none"/>
<circle cx="4115.6" cy="1591.7" r="4.0" fill="#000" stroke="none"/>
<circle cx="4168.0" cy="1459.0" r="2.8" fill="#000" stroke="none"/>
<circle cx="4271.7" cy="1187.6" r="2.6" fill="#000" stroke="none"/>
<ellipse cx="4185.2" cy="1564.5" rx="7.8" ry="3.1" transform="rotate(54 4185.2 1564.5)" fill="#000" stroke="none"/>
<ellipse cx="4084.4" cy="1666.2" rx="6.7" ry="2.7" transform="rotate(52 4084.4 1666.2)" fill="#000" stroke="none"/>
<circle cx="4167.4" cy="1611.1" r="3.6" fill="#000" stroke="none"/>
<circle cx="4155.2" cy="1270.5" r="5.0" fill="#000" stroke="none"/>
<circle cx="4081.6" cy="1153.0" r="3.5" fill="#000" stroke="none"/>
<ellipse cx="4147.8" cy="1395.9" rx="7.6" ry="3.0" transform="rotate(11 4147.8 1395.9)" fill="#000" stroke="none"/>
<circle cx="4273.4" cy="1370.1" r="4.1" fill="#000" stroke="none"/>
<ellipse cx="4167.4" cy="1333.6" rx="8.6" ry="3.5" transform="rotate(126 4167.4 1333.6)" fill="#000" stroke="none"/>
<circle cx="4288.5" cy="1114.2" r="3.8" fill="#000" stroke="none"/>
<circle cx="4099.3" cy="1526.1" r="2.9" fill="#000" stroke="none"/>
<ellipse cx="4256.6" cy="1590.9" rx="8.3" ry="3.3" transform="rotate(123 4256.6 1590.9)" fill="#000" stroke="none"/>
<circle cx="4236.1" cy="1645.8" r="3.3" fill="#000" stroke="none"/>
<circle cx="4233.8" cy="1324.2" r="2.8" fill="#000" stroke="none"/>
<circle cx="4109.5" cy="1418.2" r="3.8" fill="#000" stroke="none"/>
<circle cx="4078.6" cy="1370.1" r="4.0" fill="#000" stroke="none"/>
<circle cx="4197.5" cy="1286.1" r="4.7" fill="#000" stroke="none"/>
<circle cx="4286.0" cy="1457.4" r="3.0" fill="#000" stroke="none"/>
<circle cx="4227.4" cy="1362.3" r="3.5" fill="#000" stroke="none"/>
<circle cx="4194.7" cy="1650.3" r="4.7" fill="#000" stroke="none"/>
<circle cx="4203.5" cy="1224.8" r="4.3" fill="#000" stroke="none"/>
<circle cx="4062.5" cy="1470.4" r="3.4" fill="#000" stroke="none"/>
<circle cx="4182.8" cy="1524.4" r="3.4" fill="#000" stroke="none"/>
<circle cx="4160.4" cy="1690.4" r="4.4" fill="#000" stroke="none"/>
<circle cx="4286.8" cy="1621.2" r="4.0" fill="#000" stroke="none"/>
<g clip-path="url(#c7)">
<line x1="3973.0" y1="1404.0" x2="4348.0" y2="1029.0" stroke-width="4"/>
<line x1="3973.0" y1="1552.0" x2="4348.0" y2="1177.0" stroke-width="4"/>
<line x1="3973.0" y1="1702.0" x2="4348.0" y2="1327.0" stroke-width="4"/>
<line x1="3973.0" y1="1864.0" x2="4348.0" y2="1489.0" stroke-width="4"/>
</g>
<ellipse cx="4163.0" cy="1160.0" rx="10.0" ry="20.0" transform="rotate(40 4163.0 1160.0)" stroke-width="7"/>
<ellipse cx="4235.0" cy="1220.0" rx="10.0" ry="20.0" transform="rotate(40 4235.0 1220.0)" stroke-width="7"/>
<ellipse cx="4178.0" cy="1300.0" rx="10.0" ry="20.0" transform="rotate(40 4178.0 1300.0)" stroke-width="7"/>
<ellipse cx="4223.0" cy="1400.0" rx="10.0" ry="20.0" transform="rotate(40 4223.0 1400.0)" stroke-width="7"/>
<ellipse cx="4095.0" cy="1510.0" rx="10.0" ry="20.0" transform="rotate(40 4095.0 1510.0)" stroke-width="7"/>
<ellipse cx="4218.0" cy="1545.0" rx="10.0" ry="20.0" transform="rotate(40 4218.0 1545.0)" stroke-width="7"/>
<ellipse cx="4118.0" cy="1635.0" rx="10.0" ry="20.0" transform="rotate(40 4118.0 1635.0)" stroke-width="7"/>
<ellipse cx="4245.0" cy="1660.0" rx="10.0" ry="20.0" transform="rotate(40 4245.0 1660.0)" stroke-width="7"/>
<polyline points="3946.0,1057.0 4298.0,1057.0 4298.0,1703.0 4078.0,1703.0 4023.0,1220.0 3906.0,1216.0 3946.0,1057.0" fill="none" stroke-width="11"/>
<line x1="4298.0" y1="1040.0" x2="4298.0" y2="1712.0" stroke-width="6"/>
<path d="M4298,1352 C4298,1362 4284,1360 4284,1366 C4284,1372 4298,1370 4298,1380" fill="none" stroke-width="5"/>
<line x1="3963.0" y1="1072.0" x2="3926.0" y2="1206.0" stroke-width="4"/>
<path d="M4298,1106 L4132,1109 C4110,1110 4095,1125 4080,1143 L4029,1209" fill="none" stroke-width="5"/>
<polygon points="4023,1220 4120,1206 4152,1418 4046,1432" fill="#fff" stroke-width="7"/>
<line x1="4023.0" y1="1222.0" x2="4150.0" y2="1415.0" stroke-width="5"/>
<line x1="4120.0" y1="1208.0" x2="4046.0" y2="1430.0" stroke-width="5"/>
<line x1="3823.0" y1="1040.0" x2="3823.0" y2="1466.0" stroke-width="5"/>
<line x1="3813.4" y1="1073.0" x2="3832.6" y2="1041.0" stroke-width="5"/>
<line x1="3813.4" y1="1233.0" x2="3832.6" y2="1201.0" stroke-width="5"/>
<line x1="3813.4" y1="1454.0" x2="3832.6" y2="1422.0" stroke-width="5"/>
<line x1="3803.0" y1="1057.0" x2="3932.0" y2="1057.0" stroke-width="5"/>
<line x1="3803.0" y1="1217.0" x2="3877.0" y2="1217.0" stroke-width="5"/>
<line x1="3806.0" y1="1438.0" x2="3989.0" y2="1438.0" stroke-width="5"/>
<text transform="translate(3809.0,1140.0) rotate(-90)" text-anchor="middle" style="font-size:52.1px;font-weight:bold;font-family:&quot;Liberation Sans&quot;,sans-serif;" stroke="#000" stroke-width="2.3">80</text>
<text transform="translate(3809.0,1326.0) rotate(-90)" text-anchor="middle" style="font-size:52.1px;font-weight:bold;font-family:&quot;Liberation Sans&quot;,sans-serif;" stroke="#000" stroke-width="2.3">100</text>
<circle cx="3175" cy="2031" r="89" stroke-width="4"/>
<circle cx="3175" cy="2031" r="79" stroke-width="6"/>
<text transform="translate(3175.0,2058.5) scale(0.78,1)" text-anchor="middle" style="font-size:75.4px;font-weight:bold;font-family:&quot;Liberation Sans&quot;,sans-serif;" stroke="#000" stroke-width="3.3">24б</text>
<line x1="3162.0" y1="1840.0" x2="3162.0" y2="1913.0" stroke-width="8"/>
<line x1="3162.0" y1="1842.0" x2="3263.0" y2="1842.0" stroke-width="9"/>
<text transform="translate(3205.0,1910.0)" text-anchor="start" textLength="40.0" lengthAdjust="spacingAndGlyphs" style="font-size:71.3px;font-weight:bold;font-family:&quot;Liberation Sans&quot;,sans-serif;" stroke="#000" stroke-width="3.1">2</text>
<line x1="3330.0" y1="1935.0" x2="4017.0" y2="1935.0" stroke-width="5"/>
<line x1="3332.4" y1="1951.0" x2="3351.6" y2="1919.0" stroke-width="5"/>
<line x1="3512.4" y1="1951.0" x2="3531.6" y2="1919.0" stroke-width="5"/>
<line x1="3992.4" y1="1951.0" x2="4011.6" y2="1919.0" stroke-width="5"/>
<text transform="translate(3397.0,1913.0)" text-anchor="start" textLength="67.0" lengthAdjust="spacingAndGlyphs" style="font-size:53.5px;font-weight:bold;font-family:&quot;Liberation Sans&quot;,sans-serif;" stroke="#000" stroke-width="2.3">80</text>
<text transform="translate(3754.0,1913.0)" text-anchor="start" textLength="95.0" lengthAdjust="spacingAndGlyphs" style="font-size:53.5px;font-weight:bold;font-family:&quot;Liberation Sans&quot;,sans-serif;" stroke="#000" stroke-width="2.3">270</text>
<line x1="3330.0" y1="2020.0" x2="4017.0" y2="2020.0" stroke-width="6"/>
<path d="M3695,2020 C3705,2020 3703,2000 3709,2000 C3715,2000 3713,2020 3723,2020" fill="none" stroke-width="5"/>
<line x1="3342.0" y1="1919.0" x2="3345.0" y2="2768.0" stroke-width="5"/>
<line x1="3522.0" y1="1919.0" x2="3519.0" y2="2328.0" stroke-width="5"/>
<line x1="4002.0" y1="1919.0" x2="3999.0" y2="2768.0" stroke-width="5"/>
<ellipse cx="3495.3" cy="2277.4" rx="9.8" ry="3.9" transform="rotate(111 3495.3 2277.4)" fill="#000" stroke="none"/>
<circle cx="3436.8" cy="2470.2" r="3.3" fill="#000" stroke="none"/>
<circle cx="3426.5" cy="2518.3" r="3.9" fill="#000" stroke="none"/>
<circle cx="3414.4" cy="2427.5" r="4.0" fill="#000" stroke="none"/>
<circle cx="3452.8" cy="2376.5" r="4.9" fill="#000" stroke="none"/>
<ellipse cx="3431.5" cy="2363.3" rx="7.7" ry="3.1" transform="rotate(6 3431.5 2363.3)" fill="#000" stroke="none"/>
<circle cx="3371.9" cy="2380.2" r="3.7" fill="#000" stroke="none"/>
<circle cx="3400.9" cy="2411.0" r="2.8" fill="#000" stroke="none"/>
<circle cx="3442.8" cy="2556.3" r="4.4" fill="#000" stroke="none"/>
<ellipse cx="3482.7" cy="2356.8" rx="9.6" ry="3.9" transform="rotate(98 3482.7 2356.8)" fill="#000" stroke="none"/>
<circle cx="3408.4" cy="2340.5" r="3.6" fill="#000" stroke="none"/>
<circle cx="3449.4" cy="2324.4" r="3.8" fill="#000" stroke="none"/>
<ellipse cx="3490.9" cy="2370.8" rx="8.8" ry="3.5" transform="rotate(137 3490.9 2370.8)" fill="#000" stroke="none"/>
<circle cx="3428.8" cy="2548.8" r="4.1" fill="#000" stroke="none"/>
<ellipse cx="3363.4" cy="2365.4" rx="8.6" ry="3.4" transform="rotate(19 3363.4 2365.4)" fill="#000" stroke="none"/>
<circle cx="3485.6" cy="2300.6" r="3.2" fill="#000" stroke="none"/>
<circle cx="3425.2" cy="2494.3" r="3.8" fill="#000" stroke="none"/>
<ellipse cx="3428.5" cy="2316.6" rx="5.8" ry="2.3" transform="rotate(88 3428.5 2316.6)" fill="#000" stroke="none"/>
<ellipse cx="3448.5" cy="2501.1" rx="7.9" ry="3.1" transform="rotate(83 3448.5 2501.1)" fill="#000" stroke="none"/>
<circle cx="3417.6" cy="2576.9" r="4.5" fill="#000" stroke="none"/>
<circle cx="3431.5" cy="2388.1" r="3.2" fill="#000" stroke="none"/>
<circle cx="3374.6" cy="2341.7" r="3.4" fill="#000" stroke="none"/>
<circle cx="3409.1" cy="2376.7" r="4.8" fill="#000" stroke="none"/>
<ellipse cx="3375.5" cy="2412.6" rx="8.5" ry="3.4" transform="rotate(18 3375.5 2412.6)" fill="#000" stroke="none"/>
<circle cx="3485.4" cy="2324.4" r="4.8" fill="#000" stroke="none"/>
<circle cx="3416.4" cy="2398.3" r="4.9" fill="#000" stroke="none"/>
<circle cx="3441.3" cy="2414.3" r="4.6" fill="#000" stroke="none"/>
<circle cx="3452.5" cy="2340.0" r="3.9" fill="#000" stroke="none"/>
<circle cx="3453.5" cy="2307.6" r="4.1" fill="#000" stroke="none"/>
<circle cx="3465.3" cy="2405.1" r="4.8" fill="#000" stroke="none"/>
<ellipse cx="3425.3" cy="2453.9" rx="7.4" ry="3.0" transform="rotate(6 3425.3 2453.9)" fill="#000" stroke="none"/>
<circle cx="3470.7" cy="2368.3" r="3.0" fill="#000" stroke="none"/>
<circle cx="3504.3" cy="2304.5" r="3.7" fill="#000" stroke="none"/>
<circle cx="3435.5" cy="2333.5" r="3.3" fill="#000" stroke="none"/>
<circle cx="3475.9" cy="2286.6" r="3.6" fill="#000" stroke="none"/>
<circle cx="3358.3" cy="2409.3" r="2.6" fill="#000" stroke="none"/>
<circle cx="3388.0" cy="2363.4" r="3.7" fill="#000" stroke="none"/>
<circle cx="3435.7" cy="2571.3" r="3.8" fill="#000" stroke="none"/>
<ellipse cx="3410.1" cy="2357.1" rx="8.8" ry="3.5" transform="rotate(151 3410.1 2357.1)" fill="#000" stroke="none"/>
<ellipse cx="3466.9" cy="2384.9" rx="10.0" ry="4.0" transform="rotate(116 3466.9 2384.9)" fill="#000" stroke="none"/>
<circle cx="3472.6" cy="2342.5" r="3.4" fill="#000" stroke="none"/>
<ellipse cx="3465.6" cy="2423.9" rx="9.8" ry="3.9" transform="rotate(12 3465.6 2423.9)" fill="#000" stroke="none"/>
<ellipse cx="3496.5" cy="2345.5" rx="5.3" ry="2.1" transform="rotate(40 3496.5 2345.5)" fill="#000" stroke="none"/>
<circle cx="3386.2" cy="2390.4" r="3.2" fill="#000" stroke="none"/>
<ellipse cx="3424.0" cy="2414.4" rx="9.4" ry="3.8" transform="rotate(107 3424.0 2414.4)" fill="#000" stroke="none"/>
<circle cx="3830.3" cy="2523.8" r="3.4" fill="#000" stroke="none"/>
<circle cx="3842.6" cy="2389.4" r="4.1" fill="#000" stroke="none"/>
<circle cx="3547.0" cy="2395.5" r="3.2" fill="#000" stroke="none"/>
<circle cx="3532.9" cy="2552.9" r="2.9" fill="#000" stroke="none"/>
<circle cx="3792.1" cy="2460.9" r="3.8" fill="#000" stroke="none"/>
<circle cx="3747.9" cy="2370.0" r="2.6" fill="#000" stroke="none"/>
<circle cx="3552.2" cy="2506.6" r="3.4" fill="#000" stroke="none"/>
<circle cx="3760.1" cy="2569.9" r="3.4" fill="#000" stroke="none"/>
<ellipse cx="3582.4" cy="2453.0" rx="5.0" ry="2.0" transform="rotate(63 3582.4 2453.0)" fill="#000" stroke="none"/>
<circle cx="3487.9" cy="2507.7" r="3.5" fill="#000" stroke="none"/>
<circle cx="3918.6" cy="2542.1" r="4.2" fill="#000" stroke="none"/>
<circle cx="3628.3" cy="2524.1" r="4.8" fill="#000" stroke="none"/>
<circle cx="3733.7" cy="2535.4" r="4.3" fill="#000" stroke="none"/>
<ellipse cx="3493.5" cy="2454.0" rx="5.3" ry="2.1" transform="rotate(47 3493.5 2454.0)" fill="#000" stroke="none"/>
<circle cx="3934.9" cy="2453.9" r="3.0" fill="#000" stroke="none"/>
<circle cx="3582.1" cy="2540.0" r="3.1" fill="#000" stroke="none"/>
<circle cx="3667.2" cy="2415.9" r="4.3" fill="#000" stroke="none"/>
<ellipse cx="3666.0" cy="2530.9" rx="8.2" ry="3.3" transform="rotate(139 3666.0 2530.9)" fill="#000" stroke="none"/>
<circle cx="3904.4" cy="2408.7" r="3.4" fill="#000" stroke="none"/>
<circle cx="3811.9" cy="2431.7" r="3.7" fill="#000" stroke="none"/>
<ellipse cx="3596.2" cy="2391.7" rx="7.5" ry="3.0" transform="rotate(56 3596.2 2391.7)" fill="#000" stroke="none"/>
<ellipse cx="3632.1" cy="2437.3" rx="7.7" ry="3.1" transform="rotate(104 3632.1 2437.3)" fill="#000" stroke="none"/>
<circle cx="3694.7" cy="2498.9" r="3.9" fill="#000" stroke="none"/>
<circle cx="3510.0" cy="2366.5" r="2.8" fill="#000" stroke="none"/>
<circle cx="3800.7" cy="2540.1" r="4.9" fill="#000" stroke="none"/>
<ellipse cx="3804.4" cy="2387.3" rx="6.1" ry="2.4" transform="rotate(18 3804.4 2387.3)" fill="#000" stroke="none"/>
<circle cx="3752.3" cy="2489.9" r="4.4" fill="#000" stroke="none"/>
<circle cx="3865.3" cy="2430.4" r="3.3" fill="#000" stroke="none"/>
<circle cx="3941.7" cy="2515.3" r="4.3" fill="#000" stroke="none"/>
<ellipse cx="3985.8" cy="2569.1" rx="6.8" ry="2.7" transform="rotate(72 3985.8 2569.1)" fill="#000" stroke="none"/>
<ellipse cx="3773.7" cy="2411.0" rx="8.2" ry="3.3" transform="rotate(135 3773.7 2411.0)" fill="#000" stroke="none"/>
<circle cx="3901.0" cy="2505.4" r="4.8" fill="#000" stroke="none"/>
<circle cx="3972.8" cy="2406.0" r="4.1" fill="#000" stroke="none"/>
<circle cx="3883.5" cy="2536.7" r="4.7" fill="#000" stroke="none"/>
<circle cx="3633.2" cy="2353.1" r="4.7" fill="#000" stroke="none"/>
<circle cx="3705.4" cy="2388.9" r="3.2" fill="#000" stroke="none"/>
<ellipse cx="3889.4" cy="2459.3" rx="5.0" ry="2.0" transform="rotate(21 3889.4 2459.3)" fill="#000" stroke="none"/>
<circle cx="3698.5" cy="2578.9" r="2.9" fill="#000" stroke="none"/>
<circle cx="3527.9" cy="2463.4" r="5.0" fill="#000" stroke="none"/>
<circle cx="3739.8" cy="2425.0" r="4.6" fill="#000" stroke="none"/>
<g clip-path="url(#c8)">
<line x1="3408.0" y1="2574.0" x2="4049.0" y2="1933.0" stroke-width="4"/>
<line x1="3408.0" y1="2713.0" x2="4049.0" y2="2072.0" stroke-width="4"/>
<line x1="3408.0" y1="2861.0" x2="4049.0" y2="2220.0" stroke-width="4"/>
<line x1="3408.0" y1="3007.0" x2="4049.0" y2="2366.0" stroke-width="4"/>
<line x1="3408.0" y1="3132.0" x2="4049.0" y2="2491.0" stroke-width="4"/>
</g>
<ellipse cx="3578.0" cy="2380.0" rx="11.0" ry="24.0" transform="rotate(40 3578.0 2380.0)" stroke-width="7"/>
<ellipse cx="3553.0" cy="2515.0" rx="11.0" ry="24.0" transform="rotate(40 3553.0 2515.0)" stroke-width="7"/>
<ellipse cx="3680.0" cy="2530.0" rx="11.0" ry="24.0" transform="rotate(40 3680.0 2530.0)" stroke-width="7"/>
<ellipse cx="3826.0" cy="2455.0" rx="11.0" ry="24.0" transform="rotate(40 3826.0 2455.0)" stroke-width="7"/>
<ellipse cx="3813.0" cy="2520.0" rx="11.0" ry="24.0" transform="rotate(40 3813.0 2520.0)" stroke-width="7"/>
<ellipse cx="3958.0" cy="2560.0" rx="11.0" ry="24.0" transform="rotate(40 3958.0 2560.0)" stroke-width="7"/>
<ellipse cx="3645.0" cy="2405.0" rx="11.0" ry="24.0" transform="rotate(40 3645.0 2405.0)" stroke-width="7"/>
<polyline points="3349.0,2200.0 3516.0,2231.0" fill="none" stroke-width="9"/>
<polyline points="3345.0,2194.0 3345.0,2414.0 3407.0,2444.0 3407.0,2588.0 3999.0,2588.0 3999.0,2383.0 3522.0,2328.0 3519.0,2261.0 3349.0,2334.0" fill="none" stroke-width="11"/>
<polyline points="3458.0,2585.0 3461.0,2456.0 3516.0,2334.0" fill="none" stroke-width="5"/>
<line x1="3260.0" y1="2188.0" x2="3260.0" y2="2615.0" stroke-width="5"/>
<line x1="3250.4" y1="2219.0" x2="3269.6" y2="2187.0" stroke-width="5"/>
<line x1="3250.4" y1="2277.0" x2="3269.6" y2="2245.0" stroke-width="5"/>
<line x1="3250.4" y1="2347.0" x2="3269.6" y2="2315.0" stroke-width="5"/>
<line x1="3250.4" y1="2433.0" x2="3269.6" y2="2401.0" stroke-width="5"/>
<line x1="3250.4" y1="2463.0" x2="3269.6" y2="2431.0" stroke-width="5"/>
<line x1="3250.4" y1="2604.0" x2="3269.6" y2="2572.0" stroke-width="5"/>
<line x1="3245.0" y1="2203.0" x2="3315.0" y2="2203.0" stroke-width="5"/>
<line x1="3236.0" y1="2261.0" x2="3500.0" y2="2261.0" stroke-width="5"/>
<line x1="3245.0" y1="2331.0" x2="3342.0" y2="2331.0" stroke-width="5"/>
<line x1="3250.0" y1="2417.0" x2="3318.0" y2="2417.0" stroke-width="5"/>
<line x1="3250.0" y1="2447.0" x2="3330.0" y2="2447.0" stroke-width="5"/>
<line x1="3250.0" y1="2588.0" x2="3385.0" y2="2588.0" stroke-width="5"/>
<text transform="translate(3242.0,2226.0) rotate(-90)" text-anchor="middle" style="font-size:46.6px;font-weight:bold;font-family:&quot;Liberation Sans&quot;,sans-serif;" stroke="#000" stroke-width="2.0">25</text>
<text transform="translate(3242.0,2300.0) rotate(-90)" text-anchor="middle" style="font-size:46.6px;font-weight:bold;font-family:&quot;Liberation Sans&quot;,sans-serif;" stroke="#000" stroke-width="2.0">30</text>
<text transform="translate(3242.0,2405.0) rotate(-90)" text-anchor="middle" style="font-size:41.2px;font-weight:bold;font-family:&quot;Liberation Sans&quot;,sans-serif;" stroke="#000" stroke-width="1.8">10</text>
<text transform="translate(3242.0,2515.0) rotate(-90)" text-anchor="middle" style="font-size:46.6px;font-weight:bold;font-family:&quot;Liberation Sans&quot;,sans-serif;" stroke="#000" stroke-width="2.0">70</text>
<line x1="3657.0" y1="2191.0" x2="3657.0" y2="2328.0" stroke-width="5"/>
<line x1="3647.4" y1="2219.0" x2="3666.6" y2="2187.0" stroke-width="5"/>
<line x1="3647.4" y1="2244.0" x2="3666.6" y2="2212.0" stroke-width="5"/>
<line x1="3647.4" y1="2283.0" x2="3666.6" y2="2251.0" stroke-width="5"/>
<line x1="3647.4" y1="2341.0" x2="3666.6" y2="2309.0" stroke-width="5"/>
<line x1="3519.0" y1="2203.0" x2="3672.0" y2="2203.0" stroke-width="5"/>
<line x1="3535.0" y1="2228.0" x2="3675.0" y2="2228.0" stroke-width="5"/>
<line x1="3522.0" y1="2267.0" x2="3681.0" y2="2267.0" stroke-width="5"/>
<line x1="3522.0" y1="2325.0" x2="3999.0" y2="2325.0" stroke-width="5"/>
<text transform="translate(3629.0,2190.0) rotate(-90)" text-anchor="middle" style="font-size:41.2px;font-weight:bold;font-family:&quot;Liberation Sans&quot;,sans-serif;" stroke="#000" stroke-width="1.8">5</text>
<text transform="translate(3629.0,2245.0) rotate(-90)" text-anchor="middle" style="font-size:41.2px;font-weight:bold;font-family:&quot;Liberation Sans&quot;,sans-serif;" stroke="#000" stroke-width="1.8">20</text>
<text transform="translate(3629.0,2296.0) rotate(-90)" text-anchor="middle" style="font-size:41.2px;font-weight:bold;font-family:&quot;Liberation Sans&quot;,sans-serif;" stroke="#000" stroke-width="1.8">30</text>
<line x1="4121.0" y1="2310.0" x2="4121.0" y2="2615.0" stroke-width="5"/>
<line x1="4203.0" y1="2310.0" x2="4203.0" y2="2630.0" stroke-width="5"/>
<line x1="4111.4" y1="2341.0" x2="4130.6" y2="2309.0" stroke-width="5"/>
<line x1="4111.4" y1="2405.0" x2="4130.6" y2="2373.0" stroke-width="5"/>
<line x1="4111.4" y1="2607.0" x2="4130.6" y2="2575.0" stroke-width="5"/>
<line x1="4193.4" y1="2341.0" x2="4212.6" y2="2309.0" stroke-width="5"/>
<line x1="4193.4" y1="2607.0" x2="4212.6" y2="2575.0" stroke-width="5"/>
<line x1="3999.0" y1="2325.0" x2="4221.0" y2="2325.0" stroke-width="5"/>
<line x1="4014.0" y1="2389.0" x2="4142.0" y2="2389.0" stroke-width="5"/>
<line x1="4002.0" y1="2591.0" x2="4221.0" y2="2591.0" stroke-width="5"/>
<text transform="translate(4105.0,2358.0) rotate(-90)" text-anchor="middle" style="font-size:46.6px;font-weight:bold;font-family:&quot;Liberation Sans&quot;,sans-serif;" stroke="#000" stroke-width="2.0">25</text>
<text transform="translate(4105.0,2483.0) rotate(-90)" text-anchor="middle" style="font-size:46.6px;font-weight:bold;font-family:&quot;Liberation Sans&quot;,sans-serif;" stroke="#000" stroke-width="2.0">90</text>
<line x1="3327.0" y1="2682.0" x2="3422.0" y2="2682.0" stroke-width="5"/>
<line x1="3332.4" y1="2698.0" x2="3351.6" y2="2666.0" stroke-width="5"/>
<line x1="3387.4" y1="2698.0" x2="3406.6" y2="2666.0" stroke-width="5"/>
<line x1="3397.0" y1="2612.0" x2="3397.0" y2="2706.0" stroke-width="5"/>
<text transform="translate(3342.0,2667.0)" text-anchor="start" textLength="52.0" lengthAdjust="spacingAndGlyphs" style="font-size:42.5px;font-weight:bold;font-family:&quot;Liberation Sans&quot;,sans-serif;" stroke="#000" stroke-width="1.9">30</text>
<line x1="3325.0" y1="2755.0" x2="4021.0" y2="2755.0" stroke-width="5"/>
<line x1="3332.4" y1="2771.0" x2="3351.6" y2="2739.0" stroke-width="5"/>
<line x1="3992.4" y1="2771.0" x2="4011.6" y2="2739.0" stroke-width="5"/>
<text transform="translate(3641.0,2740.0)" text-anchor="start" textLength="101.0" lengthAdjust="spacingAndGlyphs" style="font-size:54.9px;font-weight:bold;font-family:&quot;Liberation Sans&quot;,sans-serif;" stroke="#000" stroke-width="2.4">300</text>
<line x1="3159.0" y1="2511.0" x2="3159.0" y2="2633.0" stroke-width="8"/>
<line x1="3152.0" y1="2624.0" x2="3245.0" y2="2624.0" stroke-width="9"/>
<text transform="translate(3178.0,2615.0)" text-anchor="start" textLength="36.0" lengthAdjust="spacingAndGlyphs" style="font-size:71.3px;font-weight:bold;font-family:&quot;Liberation Sans&quot;,sans-serif;" stroke="#000" stroke-width="3.1">2</text>
<text transform="translate(4076.0,3099.0)" text-anchor="start" textLength="221.0" lengthAdjust="spacingAndGlyphs" style="font-size:50.8px;font-weight:bold;font-family:&quot;Liberation Sans&quot;,sans-serif;font-style:italic;" stroke="#000" stroke-width="2.2">11909-01</text>
<text transform="translate(4437.0,3099.0)" text-anchor="start" textLength="59.0" lengthAdjust="spacingAndGlyphs" style="font-size:50.8px;font-weight:bold;font-family:&quot;Liberation Sans&quot;,sans-serif;" stroke="#000" stroke-width="2.2">35</text>
<text transform="translate(4301.0,2880.0) scale(0.8,1)" text-anchor="start" textLength="275.0" lengthAdjust="spacing" style="font-size:54.9px;font-weight:bold;font-family:&quot;Liberation Sans&quot;,sans-serif;" stroke="#000" stroke-width="2.4">СЕРИЯ</text>
<text transform="translate(4297.0,2930.0)" text-anchor="start" textLength="190.0" lengthAdjust="spacingAndGlyphs" style="font-size:45.3px;font-weight:bold;font-family:&quot;Liberation Sans&quot;,sans-serif;" stroke="#000" stroke-width="2.0">1. 132-1</text>
<text transform="translate(4267.0,2983.0) scale(0.8,1)" text-anchor="start" textLength="208.8" lengthAdjust="spacingAndGlyphs" style="font-size:49.4px;font-weight:bold;font-family:&quot;Liberation Sans&quot;,sans-serif;" stroke="#000" stroke-width="2.2">Выпуск</text>
<text transform="translate(4301.0,3030.0)" text-anchor="start" textLength="73.0" lengthAdjust="spacingAndGlyphs" style="font-size:50.8px;font-weight:bold;font-family:&quot;Liberation Sans&quot;,sans-serif;" stroke="#000" stroke-width="2.2">0-1</text>
<text transform="translate(4454.0,2983.0) scale(0.8,1)" text-anchor="start" textLength="146.2" lengthAdjust="spacingAndGlyphs" style="font-size:49.4px;font-weight:bold;font-family:&quot;Liberation Sans&quot;,sans-serif;" stroke="#000" stroke-width="2.2">Лист</text>
<text transform="translate(4481.0,3030.0)" text-anchor="start" textLength="56.0" lengthAdjust="spacingAndGlyphs" style="font-size:50.8px;font-weight:bold;font-family:&quot;Liberation Sans&quot;,sans-serif;" stroke="#000" stroke-width="2.2">23</text>
</g></svg></body></html>
